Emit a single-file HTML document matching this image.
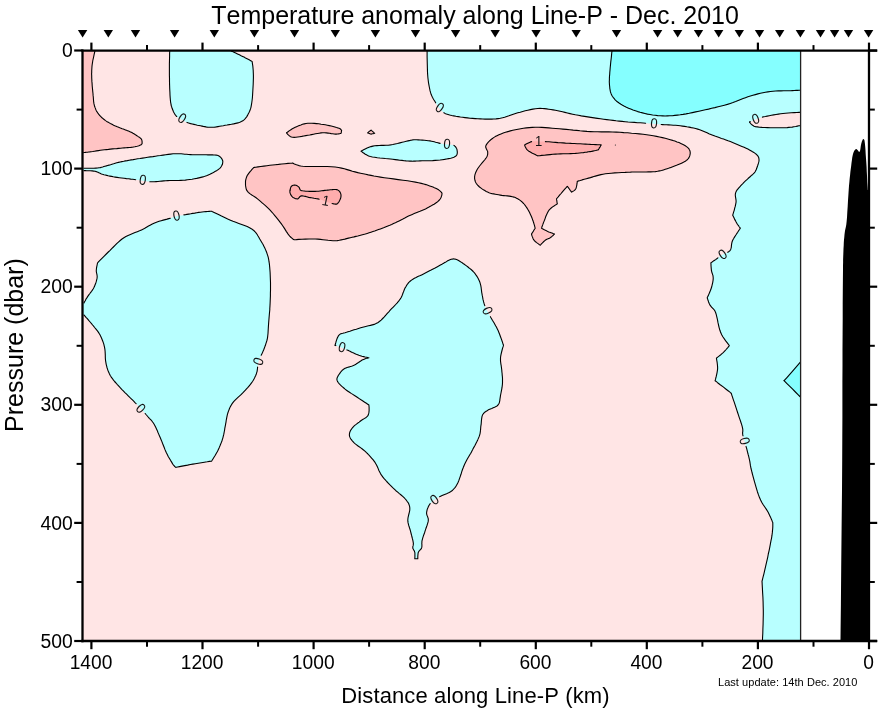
<!DOCTYPE html>
<html lang="en"><head><meta charset="utf-8"><title>Temperature anomaly along Line-P - Dec. 2010</title>
<style>
html,body{margin:0;padding:0;background:#fff;}
body{width:878px;height:708px;overflow:hidden;font-family:"Liberation Sans",Arial,Helvetica,sans-serif;}
svg{display:block;will-change:transform;font-kerning:none;font-family:"Liberation Sans",Arial,Helvetica,sans-serif;}
</style></head><body>
<svg width="878" height="708" viewBox="0 0 878 708">
<rect width="878" height="708" fill="#fff"/>
<defs><clipPath id="pa"><rect x="83" y="51" width="718" height="589.5"/></clipPath></defs>
<g clip-path="url(#pa)">
<rect x="83" y="51" width="718" height="589.5" fill="#FFE5E5"/>
<path d="M24 -9 L27 -9 L35.1 -9 L46.4 -9 L59.5 -9 L72.5 -9 L83.8 -9 L91.9 -9 L94.9 -9 L94.9 -6.4 L94.9 0.4 L94.9 10 L94.9 21 L94.9 32 L94.9 41.6 L94.9 48.4 L94.9 51 L94.8 51.4 L94.6 52.5 L94.2 54.1 L93.8 56.1 L93.3 58.3 L92.8 60.5 L92.5 62.7 L92.2 64.5 L92 66.1 L91.9 67.7 L91.8 69.3 L91.7 70.8 L91.7 72.4 L91.6 74 L91.7 75.7 L91.7 77.5 L91.8 79.4 L91.9 81.4 L92.1 83.6 L92.2 85.7 L92.4 87.8 L92.6 89.9 L92.8 91.9 L93 93.7 L93.1 95.4 L93.3 97 L93.4 98.5 L93.5 99.9 L93.6 101.3 L93.8 102.6 L94 103.9 L94.3 105.1 L94.6 106.3 L95 107.4 L95.4 108.4 L95.8 109.5 L96.2 110.4 L96.7 111.4 L97.3 112.3 L97.9 113.2 L98.6 114.1 L99.3 115 L100.1 115.8 L100.9 116.7 L101.7 117.5 L102.6 118.2 L103.5 119 L104.4 119.7 L105.3 120.4 L106.3 121.1 L107.2 121.7 L108.3 122.3 L109.3 122.9 L110.3 123.5 L111.4 124 L112.5 124.6 L113.6 125.2 L114.8 125.7 L116.1 126.2 L117.3 126.8 L118.6 127.3 L119.8 127.8 L121 128.2 L122.2 128.7 L123.3 129.1 L124.4 129.5 L125.5 129.9 L126.5 130.3 L127.5 130.7 L128.5 131.1 L129.5 131.5 L130.4 131.9 L131.3 132.3 L132.2 132.8 L133 133.3 L133.9 133.8 L134.7 134.3 L135.5 134.8 L136.2 135.2 L136.9 135.7 L137.6 136.1 L138.3 136.6 L138.9 137 L139.5 137.4 L140.1 137.9 L140.6 138.3 L141 138.7 L141.4 139.2 L141.7 139.7 L141.9 140.4 L142 141.1 L142.1 141.7 L142.1 142.3 L142.1 142.8 L142.1 143.2 L142.1 143.3 L142.1 143.4 L142 143.5 L142 143.7 L141.8 144 L141.7 144.2 L141.5 144.5 L141.2 144.7 L140.9 144.9 L140.3 145.1 L139.6 145.4 L138.9 145.7 L138 146 L137 146.3 L136 146.5 L134.8 146.8 L133.6 147 L132.3 147.2 L130.8 147.4 L129.3 147.5 L127.7 147.6 L126 147.8 L124.2 147.9 L122.4 148 L120.6 148.2 L118.7 148.4 L116.7 148.6 L114.7 148.7 L112.6 148.9 L110.5 149.1 L108.4 149.4 L106.4 149.6 L104.4 149.8 L102.4 150 L100.4 150.3 L98.4 150.6 L96.4 150.9 L94.5 151.2 L92.7 151.5 L91.1 151.7 L89.7 151.9 L88.6 152 L87.5 152.2 L86.4 152.3 L85.5 152.4 L84.7 152.5 L84.1 152.5 L83.7 152.6 L83.6 152.6 L81 152.7 L74.3 153 L64.7 153.4 L53.8 153.8 L42.9 154.2 L33.3 154.6 L26.6 154.9 L24 155 L24 148 L24 129.4 L24 103.1 L24 73 L24 42.9 L24 16.6 L24 -2Z" fill="#FFC4C4"/>
<path d="M169.7 -9 L169.7 -6.4 L169.7 0.4 L169.7 10 L169.7 21 L169.7 32 L169.7 41.6 L169.7 48.4 L169.7 51 L169.7 51.7 L169.6 53.6 L169.6 56.5 L169.5 60 L169.4 63.9 L169.4 68 L169.4 71.8 L169.4 75.2 L169.5 78.4 L169.5 81.8 L169.6 85.2 L169.7 88.6 L169.9 92 L170 95.1 L170.2 97.9 L170.4 100.3 L170.6 102.1 L170.9 103.6 L171.1 105 L171.4 106.2 L171.8 107.3 L172.1 108.3 L172.5 109.3 L172.9 110.3 L173.3 111.3 L173.7 112.2 L174.2 113 L174.6 113.8 L175.1 114.6 L175.6 115.2 L176.1 115.9 L176.7 116.5 L177.3 117.1 L177.9 117.5 L178.6 118 L179.3 118.4 L180 118.7 L180.8 119.1 L181.5 119.4 L182.2 119.8 L182.9 120.2 L183.5 120.6 L184.1 120.9 L184.7 121.3 L185.3 121.7 L186.1 122.1 L187 122.4 L188 122.8 L189.3 123.2 L190.7 123.6 L192.3 124 L193.9 124.4 L195.6 124.8 L197.3 125.2 L199 125.5 L200.5 125.8 L201.9 126.1 L203.3 126.4 L204.6 126.6 L205.9 126.9 L207.3 127.1 L208.6 127.2 L210 127.3 L211.5 127.3 L213.1 127.2 L214.7 127.1 L216.3 126.9 L218 126.6 L219.7 126.3 L221.4 126 L223.3 125.7 L225.1 125.3 L227.1 125 L229.2 124.6 L231.4 124.3 L233.6 123.9 L235.8 123.4 L237.9 122.9 L239.8 122.3 L241.4 121.6 L242.8 120.8 L244 119.8 L245 118.8 L246 117.7 L246.8 116.6 L247.5 115.4 L248.2 114.1 L248.9 112.8 L249.5 111.5 L250 110.2 L250.5 108.9 L250.9 107.6 L251.2 106.1 L251.5 104.4 L251.8 102.5 L252.1 100.3 L252.4 97.7 L252.6 94.6 L252.8 91.3 L253 87.8 L253.2 84.3 L253.3 81 L253.4 77.9 L253.4 75.2 L253.3 72.7 L253.2 70.3 L253 68 L252.8 65.9 L252.5 64.1 L252.3 62.6 L252.2 61.7 L252.1 61.4 L251.8 61.3 L251.1 60.9 L250 60.3 L248.7 59.5 L247.1 58.7 L245.5 57.9 L244 57.1 L242.6 56.4 L241.1 55.7 L239.4 54.8 L237.5 53.9 L235.7 53 L234 52.3 L232.6 51.6 L231.6 51.2 L231.3 51 L230.9 48.4 L229.8 41.6 L228.4 32 L226.7 21 L224.9 10 L223.5 0.4 L222.4 -6.4 L222 -9 L219.8 -9 L213.8 -9 L205.5 -9 L195.8 -9 L186.2 -9 L177.9 -9 L171.9 -9Z" fill="#B8FFFF"/>
<path d="M24 168.2 L26.6 168.2 L33.4 168.2 L43 168.2 L54 168.2 L65 168.2 L74.6 168.2 L81.4 168.2 L84 168.2 L84.4 168.2 L85.6 168.2 L87.3 168.3 L89.3 168.3 L91.6 168.3 L93.8 168.2 L95.9 168.1 L97.6 168 L99 167.8 L100.3 167.6 L101.5 167.3 L102.7 167 L103.8 166.6 L105 166.2 L106.3 165.9 L107.6 165.5 L109 165.1 L110.5 164.7 L112 164.2 L113.6 163.8 L115.2 163.3 L116.8 162.8 L118.5 162.4 L120.2 162 L121.9 161.6 L123.7 161.3 L125.5 160.9 L127.3 160.6 L129.2 160.2 L131.1 159.9 L133.2 159.6 L135.3 159.2 L137.6 158.8 L140 158.5 L142.5 158.1 L145.1 157.7 L147.7 157.3 L150.3 156.9 L152.9 156.6 L155.4 156.2 L157.9 155.8 L160.5 155.5 L163.1 155.1 L165.7 154.7 L168.2 154.4 L170.7 154.1 L173 153.8 L175.3 153.7 L177.4 153.7 L179.4 153.7 L181.2 153.8 L183.1 154 L184.8 154.2 L186.6 154.3 L188.5 154.5 L190.5 154.6 L192.6 154.7 L194.9 154.7 L197.2 154.7 L199.6 154.8 L201.9 154.8 L204.1 154.8 L206.2 154.8 L208 154.9 L209.6 154.9 L211.2 154.9 L212.5 154.9 L213.8 155 L215 155 L216.1 155.1 L217.1 155.3 L218 155.6 L218.9 156 L219.7 156.5 L220.4 157.1 L221 157.7 L221.5 158.4 L222 159.1 L222.3 159.8 L222.6 160.5 L222.8 161.2 L222.8 162 L222.7 162.7 L222.6 163.5 L222.4 164.3 L222.1 165.1 L221.7 165.8 L221.3 166.5 L220.8 167.2 L220.3 167.8 L219.7 168.4 L219.1 168.9 L218.3 169.5 L217.4 170.1 L216.5 170.7 L215.4 171.3 L214.2 172 L212.9 172.7 L211.4 173.4 L209.9 174.2 L208.3 174.9 L206.5 175.7 L204.8 176.3 L202.9 176.9 L200.9 177.4 L198.9 177.9 L196.7 178.4 L194.4 178.8 L192.1 179.2 L189.8 179.5 L187.5 179.8 L185.3 180.1 L183.1 180.3 L180.9 180.4 L178.6 180.5 L176.4 180.5 L174.2 180.5 L172 180.5 L169.9 180.5 L167.8 180.6 L165.8 180.7 L163.7 180.9 L161.7 181.1 L159.8 181.3 L157.9 181.5 L156.1 181.6 L154.3 181.8 L152.7 181.8 L151.2 181.8 L149.8 181.7 L148.6 181.6 L147.4 181.5 L146.2 181.3 L145.1 181.1 L143.9 181 L142.7 180.8 L141.5 180.6 L140.4 180.5 L139.3 180.3 L138.2 180.1 L137 179.9 L135.7 179.7 L134.3 179.5 L132.7 179.3 L130.8 179.1 L128.7 178.8 L126.4 178.6 L124.1 178.3 L121.7 178 L119.3 177.7 L117.1 177.4 L115.1 177.1 L113.3 176.8 L111.5 176.4 L109.8 176.1 L108.2 175.8 L106.7 175.4 L105.3 175 L103.9 174.7 L102.6 174.3 L101.4 173.9 L100.5 173.5 L99.6 173.1 L98.8 172.7 L98 172.3 L97.1 171.9 L96.2 171.6 L95.1 171.3 L93.7 171.1 L92.1 170.9 L90.2 170.8 L88.4 170.7 L86.7 170.7 L85.3 170.6 L84.3 170.6 L84 170.6 L81.4 170.6 L74.6 170.6 L65 170.6 L54 170.6 L43 170.6 L33.4 170.6 L26.6 170.6 L24 170.6 L24 170.5 L24 170.2 L24 169.8 L24 169.4 L24 169 L24 168.6 L24 168.3Z" fill="#B8FFFF"/>
<path d="M24 302.9 L26.6 302.9 L33.4 302.9 L43 302.9 L54 302.9 L65 302.9 L74.6 302.9 L81.4 302.9 L84 302.9 L84.1 302.7 L84.3 302.3 L84.7 301.6 L85.2 300.7 L85.7 299.7 L86.3 298.6 L87 297.6 L87.6 296.6 L88.3 295.6 L89 294.6 L89.9 293.5 L90.7 292.4 L91.6 291.3 L92.4 290.1 L93.1 289 L93.8 287.8 L94.4 286.6 L94.9 285.3 L95.4 284 L95.9 282.7 L96.3 281.4 L96.6 280.2 L96.9 278.9 L97.1 277.8 L97.2 276.7 L97.1 275.7 L97 274.8 L96.8 273.9 L96.6 273 L96.4 272.1 L96.3 271.2 L96.3 270.3 L96.4 269.3 L96.5 268.1 L96.7 266.8 L97 265.6 L97.2 264.5 L97.4 263.6 L97.5 263 L97.6 262.8 L98 262.4 L98.9 261.4 L100.4 259.9 L102.2 258.1 L104.2 256.1 L106.3 254 L108.3 252 L110.1 250.3 L111.7 248.7 L113.4 247 L115 245.4 L116.7 243.7 L118.4 242.1 L120.2 240.5 L122 239 L123.9 237.7 L125.9 236.5 L128.1 235.4 L130.4 234.4 L132.7 233.5 L135 232.6 L137.3 231.7 L139.5 230.8 L141.5 229.9 L143.4 229 L145.2 228 L146.9 227 L148.5 226.1 L150.1 225.2 L151.8 224.3 L153.4 223.5 L155.2 222.7 L157.1 222 L159.1 221.3 L161.2 220.7 L163.2 220.1 L165.2 219.6 L167.1 219.1 L168.8 218.6 L170.3 218.2 L171.4 217.9 L172.2 217.6 L173 217.3 L173.6 217.1 L174.3 216.9 L174.9 216.7 L175.6 216.5 L176.5 216.3 L177.4 216.1 L178.4 215.9 L179.3 215.7 L180.3 215.5 L181.4 215.4 L182.6 215.2 L183.9 214.9 L185.3 214.7 L186.9 214.4 L188.7 214.1 L190.7 213.8 L192.7 213.4 L194.7 213.1 L196.8 212.7 L198.7 212.4 L200.4 212.2 L202.1 212 L204 211.8 L205.9 211.6 L207.6 211.5 L209.2 211.4 L210.5 211.3 L211.3 211.2 L211.6 211.2 L212.1 211.5 L213.6 212.2 L215.8 213.3 L218.5 214.6 L221.5 216.1 L224.6 217.5 L227.7 219 L230.4 220.2 L233 221.3 L235.8 222.3 L238.8 223.4 L241.7 224.4 L244.5 225.5 L247.2 226.5 L249.6 227.7 L251.7 228.9 L253.4 230.2 L254.8 231.5 L256 232.9 L257 234.3 L257.9 235.8 L258.8 237.2 L259.6 238.7 L260.5 240.2 L261.4 241.7 L262.3 243.3 L263.2 244.8 L264 246.4 L264.8 248 L265.5 249.6 L266.2 251.2 L266.8 252.8 L267.3 254.3 L267.8 255.8 L268.2 257.2 L268.5 258.6 L268.8 260.1 L269 261.7 L269.3 263.4 L269.5 265.3 L269.7 267.4 L269.9 269.8 L270.1 272.2 L270.2 274.8 L270.3 277.5 L270.4 280.1 L270.5 282.7 L270.5 285.3 L270.5 287.9 L270.5 290.6 L270.4 293.3 L270.4 296 L270.3 298.6 L270.2 301.1 L270.1 303.4 L270 305.4 L269.9 307.1 L269.8 308.5 L269.8 309.7 L269.7 310.8 L269.6 311.8 L269.5 312.8 L269.4 313.8 L269.3 315 L269.2 316.2 L269.1 317.4 L269 318.6 L268.9 319.7 L268.8 321 L268.7 322.2 L268.6 323.6 L268.5 325 L268.4 326.6 L268.3 328.2 L268.2 329.9 L268.1 331.7 L268 333.5 L267.8 335.3 L267.6 337.1 L267.3 338.8 L266.9 340.5 L266.4 342.1 L265.9 343.7 L265.4 345.3 L264.8 346.9 L264.2 348.5 L263.6 350 L263 351.4 L262.4 352.8 L261.8 354.1 L261.2 355.3 L260.6 356.5 L260 357.7 L259.4 358.9 L258.9 360.1 L258.5 361.4 L258.2 362.8 L257.9 364.2 L257.8 365.6 L257.6 367.1 L257.5 368.5 L257.3 369.9 L257.1 371.3 L256.7 372.7 L256.3 374 L255.8 375.3 L255.2 376.5 L254.6 377.8 L254 379 L253.3 380.2 L252.5 381.5 L251.7 382.7 L250.8 383.9 L249.8 385.2 L248.8 386.4 L247.7 387.7 L246.5 388.9 L245.4 390.2 L244.2 391.4 L243 392.7 L241.8 393.9 L240.5 395.2 L239.1 396.4 L237.7 397.7 L236.4 398.9 L235.1 400.2 L233.9 401.4 L232.9 402.7 L232 403.9 L231.2 405.2 L230.5 406.4 L229.9 407.6 L229.4 408.8 L228.9 410.1 L228.4 411.4 L227.9 412.8 L227.5 414.2 L227.1 415.8 L226.8 417.3 L226.5 418.9 L226.2 420.5 L226 422.1 L225.7 423.7 L225.4 425.3 L225.1 426.9 L224.8 428.4 L224.6 430 L224.3 431.5 L224 433.1 L223.7 434.7 L223.3 436.2 L222.9 437.8 L222.4 439.4 L221.9 441 L221.3 442.6 L220.6 444.2 L220 445.8 L219.3 447.4 L218.6 448.9 L217.9 450.4 L217.1 452 L216.1 453.7 L215.1 455.5 L214 457.2 L213.1 458.7 L212.3 460 L211.8 460.8 L211.6 461.1 L211 461.2 L209.5 461.4 L207.2 461.8 L204.4 462.2 L201.4 462.7 L198.3 463.2 L195.3 463.7 L192.8 464.1 L190.4 464.5 L187.6 465.1 L184.8 465.6 L182.1 466.1 L179.6 466.6 L177.6 467 L176.3 467.3 L175.8 467.4 L175.7 467.3 L175.5 467.1 L175.2 466.9 L174.8 466.5 L174.3 466 L173.8 465.4 L173.3 464.8 L172.8 464.1 L172.2 463.1 L171.5 461.9 L170.7 460.6 L169.9 459.2 L169 457.7 L168.1 456.2 L167.3 454.5 L166.5 452.9 L165.7 451.2 L164.9 449.4 L164.2 447.5 L163.4 445.5 L162.6 443.5 L161.9 441.6 L161.1 439.7 L160.3 437.8 L159.5 436 L158.7 434.1 L157.9 432.3 L157.2 430.4 L156.4 428.7 L155.6 427 L154.8 425.4 L154 424 L153.2 422.8 L152.4 421.7 L151.7 420.7 L150.9 419.9 L150.1 419.1 L149.3 418.3 L148.5 417.4 L147.7 416.5 L146.9 415.5 L146 414.5 L145.2 413.5 L144.3 412.6 L143.4 411.5 L142.5 410.5 L141.6 409.5 L140.7 408.5 L139.8 407.5 L138.9 406.5 L138 405.6 L137 404.6 L136.1 403.6 L135 402.6 L133.9 401.4 L132.7 400.2 L131.3 398.8 L129.8 397.4 L128.2 395.8 L126.6 394.2 L124.9 392.6 L123.3 390.9 L121.7 389.3 L120.2 387.7 L118.8 386.1 L117.4 384.6 L116 383 L114.6 381.5 L113.3 379.9 L112.2 378.3 L111.1 376.8 L110.1 375.2 L109.3 373.6 L108.6 372.1 L108 370.6 L107.5 369.1 L107 367.5 L106.6 365.9 L106.2 364.3 L105.9 362.6 L105.6 360.8 L105.4 359 L105.3 357 L105.3 355.1 L105.2 353.1 L105.1 351.2 L104.9 349.4 L104.6 347.6 L104.2 345.9 L103.8 344.2 L103.3 342.6 L102.7 341 L102.1 339.5 L101.5 338 L100.8 336.5 L100.1 335.1 L99.3 333.7 L98.5 332.4 L97.6 331.1 L96.6 329.9 L95.6 328.7 L94.6 327.5 L93.6 326.2 L92.6 325 L91.5 323.6 L90.1 322 L88.7 320.4 L87.3 318.7 L86 317.3 L85 316.1 L84.3 315.3 L84 315 L81.4 315 L74.6 315 L65 315 L54 315 L43 315 L33.4 315 L26.6 315 L24 315 L24 314.5 L24 313.1 L24 311.2 L24 308.9 L24 306.7 L24 304.8 L24 303.4Z" fill="#B8FFFF"/>
<path d="M286.5 132.8 L286.7 132.6 L287.4 132.2 L288.3 131.5 L289.5 130.6 L290.9 129.7 L292.3 128.8 L293.8 128 L295.2 127.3 L296.6 126.7 L298 126.1 L299.4 125.4 L300.9 124.9 L302.5 124.3 L304.2 123.9 L306 123.5 L307.8 123.3 L309.8 123.2 L311.9 123.2 L314.2 123.4 L316.5 123.6 L318.8 123.8 L321.1 124.2 L323.3 124.5 L325.3 124.8 L327.3 125.2 L329.3 125.6 L331.2 126 L333.1 126.5 L334.9 127 L336.5 127.5 L337.9 127.9 L339.1 128.3 L339.6 128.5 L340.1 128.8 L340.6 129.2 L340.9 129.5 L341.2 129.8 L341.4 130.1 L341.6 130.2 L341.6 130.3 L341.6 130.4 L341.5 130.8 L341.4 131.2 L341.4 131.8 L341.3 132.4 L341.2 132.8 L341.1 133.2 L341.1 133.3 L341 133.3 L340.6 133.4 L340 133.6 L339.3 133.7 L338.4 133.9 L337.4 134 L336.4 134.1 L335.3 134.1 L334.1 134 L332.7 133.8 L331.2 133.6 L329.6 133.3 L328 133.1 L326.3 132.9 L324.5 132.8 L322.8 132.8 L321 132.9 L319.2 133.2 L317.4 133.5 L315.5 133.8 L313.5 134.2 L311.6 134.6 L309.7 135 L307.8 135.3 L305.9 135.6 L303.8 136 L301.8 136.4 L299.7 136.7 L297.7 137 L295.9 137.3 L294.2 137.4 L292.7 137.3 L291.4 137 L290.2 136.4 L289.2 135.7 L288.3 134.9 L287.5 134.1 L287 133.4 L286.6 133Z" fill="#FFC4C4"/>
<path d="M367.6 132.8 L367.7 132.7 L368.1 132.4 L368.7 131.9 L369.3 131.4 L369.9 131 L370.5 130.5 L370.9 130.2 L371 130.1 L371.2 130.2 L371.6 130.6 L372.2 131.1 L372.9 131.7 L373.5 132.3 L374.1 132.8 L374.5 133.2 L374.7 133.3 L374.5 133.3 L374.1 133.4 L373.5 133.6 L372.9 133.7 L372.2 133.8 L371.6 134 L371.2 134.1 L371 134.1 L370.9 134 L370.5 133.9 L369.9 133.7 L369.3 133.4 L368.7 133.2 L368.1 133 L367.7 132.9Z" fill="#FFC4C4"/>
<path d="M361.2 151.1 L361.5 150.9 L362.3 150.5 L363.6 149.8 L365.2 149 L367.1 148.1 L369 147.3 L371 146.6 L372.9 146.1 L374.8 145.8 L376.9 145.6 L379.1 145.5 L381.3 145.4 L383.6 145.4 L386 145.3 L388.3 145.2 L390.5 144.9 L392.8 144.5 L395.1 144 L397.5 143.5 L399.9 142.9 L402.2 142.3 L404.4 141.8 L406.3 141.3 L408 140.9 L409.2 140.6 L410.1 140.4 L410.8 140.2 L411.5 140.1 L412.1 140 L412.9 139.9 L413.8 139.8 L415 139.8 L416.5 139.8 L418.3 139.9 L420.3 140 L422.3 140.1 L424.4 140.3 L426.4 140.5 L428.3 140.7 L430 140.9 L431.5 141.2 L432.9 141.5 L434.3 141.8 L435.6 142.2 L436.8 142.5 L437.9 142.8 L439 143.1 L440.1 143.4 L441.1 143.6 L442 143.8 L442.9 143.9 L443.7 144.1 L444.5 144.2 L445.3 144.3 L446.1 144.4 L446.9 144.5 L447.8 144.6 L448.7 144.6 L449.7 144.7 L450.6 144.7 L451.5 144.8 L452.4 144.9 L453.2 145.1 L453.9 145.4 L454.5 145.8 L455.1 146.3 L455.6 146.9 L456.1 147.6 L456.4 148.3 L456.8 149 L457 149.7 L457.1 150.4 L457.2 151.1 L457.3 151.9 L457.3 152.8 L457.2 153.6 L457 154.4 L456.6 155.2 L456 156 L455.1 156.6 L453.9 157.2 L452.4 157.7 L450.7 158.2 L448.7 158.6 L446.7 159 L444.5 159.4 L442.3 159.7 L440.1 160 L437.8 160.2 L435.2 160.4 L432.6 160.6 L429.9 160.7 L427.2 160.7 L424.6 160.8 L422.2 160.8 L420 160.9 L418.1 161 L416.6 161 L415.1 161.1 L413.8 161.1 L412.5 161.2 L411.2 161.1 L409.7 161.1 L408 161 L406.1 160.9 L404.1 160.7 L402 160.4 L399.8 160.2 L397.5 159.9 L395.2 159.6 L392.8 159.3 L390.5 159 L388 158.7 L385.4 158.5 L382.7 158.2 L379.9 158 L377.3 157.7 L374.7 157.3 L372.4 157 L370.4 156.5 L368.6 155.9 L366.9 155.1 L365.3 154.2 L364 153.3 L362.8 152.5 L362 151.8 L361.4 151.3Z" fill="#B8FFFF"/>
<path d="M245.5 182.6 L245.5 181.6 L245.6 180.6 L245.8 179.7 L246 178.8 L246.3 177.9 L246.6 177 L247 176 L247.5 175.1 L248.2 174.1 L249.1 172.9 L250.1 171.6 L251.2 170.4 L252.2 169.2 L253 168.3 L253.6 167.7 L253.8 167.5 L254.3 167.4 L255.8 167.2 L258 166.9 L260.8 166.5 L263.8 166.1 L266.9 165.7 L269.9 165.3 L272.6 165 L275.3 164.7 L278.5 164.4 L281.8 164 L285 163.7 L288 163.4 L290.4 163.2 L292 163.1 L292.6 163 L292.8 163.1 L293.4 163.4 L294.4 163.9 L295.7 164.5 L297.2 165 L298.9 165.6 L300.7 166 L302.7 166.3 L305.8 166.5 L309.5 166.5 L313.7 166.5 L318.2 166.5 L322.8 166.5 L327.2 166.5 L331.5 166.7 L335.2 167 L338.5 167.5 L341.5 168.1 L344.4 168.8 L347.1 169.6 L349.8 170.4 L352.4 171.2 L355 171.9 L357.8 172.6 L360.5 173.2 L363.2 173.8 L365.7 174.3 L368.3 174.9 L371 175.4 L373.9 176 L377 176.5 L380.4 177.1 L384.3 177.7 L388.7 178.3 L393.4 178.9 L398.2 179.6 L403 180.2 L407.6 180.8 L411.8 181.5 L415.4 182.1 L418.5 182.7 L421.3 183.4 L423.7 184 L425.9 184.6 L427.9 185.3 L429.7 185.9 L431.4 186.5 L433 187.1 L434.4 187.7 L435.7 188.2 L436.8 188.8 L437.7 189.3 L438.6 189.8 L439.3 190.4 L439.9 190.9 L440.5 191.4 L441 191.9 L441.4 192.3 L441.7 192.7 L441.9 193.1 L442 193.5 L442 194 L441.9 194.5 L441.8 195.1 L441.6 195.8 L441.4 196.5 L441.1 197.2 L440.8 198 L440.3 198.8 L439.7 199.7 L438.9 200.5 L438 201.4 L436.9 202.3 L435.5 203.2 L434.1 204.2 L432.5 205.1 L430.8 206.1 L429 207.1 L427.2 208 L425.5 208.9 L423.7 209.7 L421.9 210.5 L420 211.3 L418.1 212 L416.2 212.8 L414.2 213.6 L412.3 214.4 L410.4 215.2 L408.5 216.1 L406.6 217 L404.8 218 L402.9 219 L401 219.9 L399.1 220.9 L397.3 221.8 L395.4 222.7 L393.5 223.5 L391.7 224.4 L389.8 225.2 L387.9 225.9 L386 226.7 L384.2 227.5 L382.3 228.2 L380.4 228.9 L378.5 229.6 L376.6 230.3 L374.7 231 L372.9 231.6 L371 232.2 L369.1 232.8 L367.2 233.4 L365.3 234 L363.4 234.5 L361.5 235 L359.7 235.5 L357.8 236 L355.9 236.4 L354.1 236.9 L352.2 237.3 L350.3 237.7 L348.5 238.1 L346.6 238.6 L344.9 239.1 L343.1 239.5 L341.2 239.9 L339.3 240.3 L337.3 240.6 L335.2 240.7 L332.9 240.7 L330.6 240.5 L328.1 240.3 L325.6 240 L323 239.7 L320.4 239.4 L317.8 239.1 L315.2 239 L312.3 239 L309 239 L305.4 239.1 L302 239.3 L298.8 239.4 L296.3 239.6 L294.5 239.7 L293.9 239.7 L293.8 239.6 L293.4 239.4 L292.9 239 L292.2 238.4 L291.4 237.8 L290.6 237 L289.7 236.1 L288.9 235.2 L288.1 234.1 L287.3 232.9 L286.4 231.6 L285.5 230.1 L284.6 228.6 L283.6 227.1 L282.5 225.5 L281.4 223.9 L280.2 222.3 L278.9 220.6 L277.5 218.8 L276.1 217.1 L274.6 215.3 L273.1 213.5 L271.6 211.8 L270.1 210.2 L268.6 208.6 L267 207.1 L265.4 205.6 L263.7 204.2 L262.1 202.8 L260.5 201.4 L259 200.1 L257.5 198.9 L256.1 197.8 L254.6 196.8 L253.2 195.9 L251.8 195 L250.5 194.1 L249.4 193.3 L248.3 192.4 L247.5 191.4 L246.8 190.4 L246.3 189.3 L246 188.1 L245.8 187 L245.6 185.9 L245.5 184.7 L245.5 183.6Z" fill="#FFC4C4"/>
<path d="M290.1 190.1 L290.2 189.6 L290.3 189.1 L290.4 188.6 L290.5 188.1 L290.7 187.6 L290.9 187.1 L291.1 186.7 L291.4 186.3 L291.7 186 L292.2 185.7 L292.6 185.5 L293.1 185.3 L293.6 185.2 L294.1 185.1 L294.6 185.1 L295.1 185.1 L295.6 185.2 L296.1 185.3 L296.6 185.5 L297.1 185.8 L297.6 186.1 L298 186.4 L298.5 186.8 L298.9 187.1 L299.2 187.5 L299.4 188 L299.6 188.5 L299.8 189 L300 189.5 L300.3 190 L300.7 190.3 L301.4 190.6 L302.6 190.8 L304.1 191 L305.8 191.2 L307.7 191.3 L309.6 191.4 L311.6 191.4 L313.5 191.4 L315.2 191.4 L316.9 191.3 L318.5 191.2 L320.1 191 L321.8 190.8 L323.3 190.6 L324.9 190.4 L326.3 190.2 L327.7 190.1 L329 190 L330.3 189.8 L331.5 189.7 L332.6 189.6 L333.7 189.5 L334.7 189.5 L335.7 189.5 L336.5 189.6 L337.2 189.8 L337.9 190.1 L338.4 190.4 L338.9 190.8 L339.3 191.2 L339.7 191.6 L340 192.1 L340.3 192.6 L340.5 193.1 L340.7 193.7 L340.9 194.3 L341 194.9 L341 195.6 L341 196.2 L340.9 196.9 L340.8 197.6 L340.6 198.3 L340.3 199.1 L339.9 199.9 L339.5 200.8 L339.1 201.6 L338.6 202.3 L338.1 202.9 L337.7 203.4 L337.3 203.7 L336.9 204 L336.5 204.1 L336.1 204.2 L335.7 204.1 L335.2 204.1 L334.6 204 L334 203.9 L333.1 203.7 L332.1 203.5 L330.9 203.2 L329.7 202.8 L328.4 202.4 L327.3 202.1 L326.2 201.7 L325.2 201.4 L324.4 201.1 L323.8 200.9 L323.3 200.6 L322.8 200.4 L322.3 200.1 L321.7 199.9 L321 199.6 L320.2 199.4 L319.2 199.2 L318 198.9 L316.8 198.7 L315.4 198.5 L314.1 198.3 L312.7 198 L311.4 197.8 L310.2 197.6 L309 197.4 L307.8 197.1 L306.6 196.7 L305.4 196.4 L304.3 196.2 L303.2 196 L302.3 195.9 L301.4 195.9 L300.7 196.1 L300.1 196.4 L299.7 196.9 L299.3 197.4 L298.9 197.9 L298.5 198.4 L298.1 198.7 L297.6 198.9 L297 198.9 L296.4 198.8 L295.7 198.7 L295 198.4 L294.3 198.1 L293.7 197.8 L293.1 197.5 L292.6 197.1 L292.2 196.7 L291.7 196.2 L291.4 195.7 L291 195.2 L290.7 194.6 L290.5 194.1 L290.3 193.6 L290.1 193.1 L290 192.7 L289.9 192.3 L289.9 191.9 L289.9 191.6 L289.9 191.2 L290 190.9 L290 190.5Z" fill="#FFADAD"/>
<path d="M486 145.4 L486.6 144.4 L487.3 143.3 L488.3 142.2 L489.4 141 L490.7 139.8 L492.1 138.7 L493.6 137.6 L495.2 136.6 L497 135.7 L498.9 134.8 L501 133.9 L503.2 133.1 L505.5 132.3 L507.9 131.6 L510.3 130.9 L512.8 130.3 L515.3 129.7 L518 129.2 L520.7 128.7 L523.4 128.3 L526.3 127.9 L529.2 127.6 L532.2 127.4 L535.3 127.3 L538.5 127.3 L541.8 127.4 L545.3 127.6 L548.8 127.9 L552.3 128.2 L555.9 128.5 L559.4 128.8 L562.9 129.1 L566.3 129.4 L569.8 129.7 L573.2 130.1 L576.6 130.4 L580 130.8 L583.5 131.1 L587 131.4 L590.5 131.6 L594.1 131.8 L597.7 131.8 L601.4 131.9 L605.1 131.9 L608.8 131.9 L612.5 132 L616.3 132.1 L620 132.3 L623.8 132.6 L627.7 132.8 L631.6 133.2 L635.5 133.5 L639.3 133.9 L643.1 134.3 L646.7 134.8 L650.1 135.3 L653.3 135.8 L656.5 136.4 L659.5 137 L662.4 137.6 L665.2 138.3 L667.8 139 L670.3 139.7 L672.7 140.4 L674.9 141.1 L677 141.9 L679 142.6 L680.8 143.4 L682.5 144.2 L684 145 L685.3 145.8 L686.5 146.6 L687.5 147.4 L688.3 148.1 L689 148.9 L689.4 149.7 L689.8 150.4 L690 151.2 L690.2 152.1 L690.2 152.9 L690.2 153.8 L690 154.7 L689.8 155.7 L689.4 156.6 L689 157.6 L688.3 158.6 L687.5 159.5 L686.5 160.4 L685.3 161.3 L683.8 162.1 L682.1 162.9 L680.3 163.7 L678.4 164.5 L676.5 165.3 L674.6 166 L672.7 166.7 L670.9 167.4 L669.1 168.1 L667.2 168.7 L665.3 169.3 L663.4 169.9 L661.5 170.5 L659.5 170.9 L657.5 171.3 L655.4 171.6 L653.1 171.8 L650.8 171.9 L648.4 171.9 L646.1 172 L643.9 172 L641.8 172 L640 172 L638.5 172 L637.3 172 L636.3 172 L635.3 172 L634.4 172 L633.4 172 L632.1 172 L630.5 172.1 L628 172.2 L625.1 172.4 L621.8 172.5 L618.3 172.7 L614.8 172.9 L611.3 173.2 L608.2 173.5 L605.4 173.8 L603 174.2 L600.9 174.6 L599 175.1 L597.1 175.6 L595.4 176.1 L593.8 176.6 L592.1 177.1 L590.4 177.6 L588.5 178.1 L586.4 178.7 L584.2 179.3 L582.1 179.9 L580.2 180.5 L578.7 180.9 L577.7 181.2 L577.3 181.3 L577.3 181.5 L577.2 182.2 L577.1 183.2 L576.9 184.4 L576.7 185.6 L576.4 186.9 L576.1 188 L575.8 188.8 L575.3 189.5 L574.7 190.1 L574.1 190.6 L573.3 191.1 L572.7 191.5 L572.1 191.8 L571.7 192 L571.6 192.1 L571.4 191.9 L570.9 191.2 L570.2 190.3 L569.5 189.2 L568.7 188.1 L568 187.2 L567.5 186.5 L567.3 186.3 L567.2 186.4 L566.8 186.8 L566.4 187.4 L565.7 188.1 L565 188.9 L564.3 189.7 L563.5 190.6 L562.8 191.4 L562 192.3 L561.1 193.5 L560 194.7 L559 195.9 L558 197.1 L557.2 198 L556.7 198.7 L556.5 198.9 L556.5 199.1 L556.6 199.7 L556.8 200.5 L556.9 201.4 L557 202.3 L557.2 203.1 L557.3 203.7 L557.3 203.9 L557 204.1 L556.3 204.5 L555.3 205.1 L554 206 L552.6 206.9 L551.2 208 L550 209.1 L549 210.2 L548.2 211.4 L547.5 212.8 L546.8 214.2 L546.1 215.8 L545.5 217.3 L545 218.8 L544.5 220.2 L544 221.4 L543.5 222.6 L543.1 223.7 L542.7 224.9 L542.3 225.9 L542 226.8 L541.7 227.6 L541.6 228 L541.5 228.2 L541.7 228.3 L542.2 228.6 L542.9 229 L543.8 229.5 L544.9 230 L545.9 230.6 L546.9 231.1 L547.8 231.5 L548.7 231.9 L549.8 232.3 L550.9 232.7 L552 233.1 L553 233.5 L553.8 233.7 L554.3 233.9 L554.5 234 L554.4 234.1 L554.1 234.4 L553.6 234.9 L553 235.5 L552.3 236.1 L551.6 236.7 L550.9 237.2 L550.3 237.7 L549.7 238.1 L549.1 238.4 L548.5 238.6 L547.8 238.9 L547.2 239.1 L546.6 239.4 L545.9 239.8 L545.3 240.2 L544.6 240.8 L543.8 241.5 L543 242.3 L542.2 243.2 L541.4 243.9 L540.8 244.6 L540.4 245 L540.3 245.2 L540.1 245.1 L539.5 244.7 L538.7 244.1 L537.7 243.4 L536.6 242.6 L535.6 241.8 L534.7 241 L534 240.2 L533.5 239.4 L533 238.4 L532.6 237.4 L532.2 236.4 L531.9 235.5 L531.7 234.7 L531.5 234.2 L531.5 234 L531.7 233.8 L532.1 233.1 L532.7 232.2 L533.4 231.1 L534 230 L534.6 229.1 L535 228.4 L535.2 228.2 L535.2 228 L535 227.5 L534.8 226.8 L534.6 225.9 L534.3 224.8 L533.9 223.6 L533.6 222.5 L533.2 221.4 L532.8 220.3 L532.4 219.1 L531.9 217.8 L531.4 216.5 L530.8 215.2 L530.2 213.9 L529.6 212.6 L529 211.4 L528.3 210.2 L527.6 209 L526.9 207.9 L526.1 206.7 L525.3 205.6 L524.5 204.5 L523.6 203.5 L522.7 202.6 L521.8 201.7 L520.8 200.9 L519.8 200.1 L518.8 199.4 L517.7 198.8 L516.5 198.2 L515.3 197.6 L513.9 197.1 L512.4 196.7 L510.8 196.4 L509.1 196.1 L507.3 195.9 L505.5 195.8 L503.7 195.6 L501.9 195.4 L500.2 195.1 L498.6 194.8 L496.9 194.5 L495.3 194.2 L493.7 193.9 L492.1 193.6 L490.5 193.2 L489 192.7 L487.6 192.1 L486.2 191.4 L484.8 190.6 L483.4 189.8 L482 188.9 L480.7 187.9 L479.5 187 L478.5 186 L477.6 185.1 L476.8 184.2 L476.2 183.3 L475.7 182.4 L475.3 181.5 L475 180.5 L474.8 179.6 L474.6 178.6 L474.6 177.6 L474.6 176.6 L474.8 175.5 L475 174.5 L475.4 173.4 L475.8 172.3 L476.3 171.2 L476.9 170 L477.6 168.8 L478.5 167.5 L479.6 166 L480.8 164.5 L482.1 162.9 L483.4 161.4 L484.6 160 L485.6 158.7 L486.4 157.5 L486.9 156.7 L487.2 155.9 L487.5 155.2 L487.6 154.6 L487.7 154 L487.7 153.4 L487.7 152.7 L487.7 152 L487.6 151.2 L487.2 150.5 L486.8 149.7 L486.4 148.9 L486 148.1 L485.7 147.2 L485.7 146.3Z" fill="#FFC4C4"/>
<path d="M538.6 141.4 L539.4 141.4 L540.2 141.4 L540.9 141.4 L541.6 141.4 L542.4 141.4 L543.2 141.5 L544.2 141.5 L545.4 141.6 L547 141.7 L548.9 141.8 L551 142 L553.2 142.2 L555.5 142.4 L557.9 142.6 L560.4 142.7 L562.9 142.9 L565.5 143.1 L568.4 143.2 L571.3 143.4 L574.3 143.5 L577.3 143.7 L580.2 143.8 L583 144 L585.5 144.1 L588 144.2 L590.6 144.4 L593.3 144.5 L595.7 144.6 L597.9 144.7 L599.6 144.8 L600.8 144.9 L601.2 144.9 L601.1 145.1 L600.7 145.7 L600.3 146.5 L599.8 147.4 L599.2 148.2 L598.8 149 L598.4 149.6 L598.3 149.8 L598.1 149.9 L597.5 150 L596.7 150.2 L595.6 150.5 L594.3 150.8 L592.9 151.1 L591.5 151.4 L590 151.6 L588.5 151.8 L586.9 152.1 L585.2 152.3 L583.4 152.6 L581.5 152.8 L579.6 153 L577.5 153.2 L575.4 153.4 L573.1 153.5 L570.7 153.6 L568.2 153.7 L565.6 153.8 L563 153.8 L560.4 153.9 L557.8 154 L555.4 154.1 L552.8 154.3 L550 154.6 L547.1 154.9 L544.2 155.2 L541.7 155.4 L539.7 155.7 L538.3 155.8 L537.8 155.9 L537.5 155.7 L536.5 155.3 L535.2 154.6 L533.6 153.8 L531.9 152.9 L530.3 152 L528.9 151.2 L527.8 150.4 L527 149.6 L526.4 148.8 L525.8 147.9 L525.4 147 L525 146.2 L524.8 145.5 L524.6 145.1 L524.6 144.9 L524.8 144.8 L525.4 144.5 L526.2 144 L527.2 143.5 L528.4 142.9 L529.5 142.4 L530.6 141.9 L531.6 141.6 L532.5 141.4 L533.4 141.3 L534.2 141.3 L535.1 141.3 L536 141.3 L536.9 141.3 L537.7 141.4Z" fill="#FFADAD"/>
<path d="M427.1 -9 L427.1 -6.4 L427.1 0.4 L427.1 10 L427.1 21 L427.1 32 L427.1 41.6 L427.1 48.4 L427.1 51 L427.1 51.8 L427.1 53.8 L427.1 56.8 L427.2 60.5 L427.3 64.5 L427.4 68.5 L427.5 72.2 L427.7 75.2 L427.9 77.8 L428.2 80.2 L428.5 82.6 L428.9 84.8 L429.3 87 L429.7 89 L430.1 90.9 L430.6 92.7 L431.1 94.3 L431.8 95.9 L432.4 97.2 L433.1 98.5 L433.8 99.7 L434.5 100.8 L435.1 101.8 L435.7 102.8 L436.2 103.7 L436.6 104.5 L437 105.2 L437.4 105.8 L437.8 106.4 L438.2 106.9 L438.7 107.5 L439.3 108.2 L440 108.9 L440.6 109.7 L441.3 110.5 L442.1 111.2 L442.9 112 L443.9 112.7 L445 113.4 L446.4 114 L448 114.5 L449.7 115 L451.7 115.5 L453.7 115.9 L455.9 116.3 L458.1 116.6 L460.4 117 L462.7 117.3 L465 117.6 L467.5 117.9 L470 118.2 L472.6 118.4 L475.2 118.6 L477.8 118.8 L480.3 118.9 L482.7 119 L485 119.1 L487.3 119.1 L489.5 119.1 L491.7 119.1 L493.8 119 L496 118.9 L498.1 118.6 L500.3 118.3 L502.5 117.8 L504.6 117.2 L506.8 116.5 L508.9 115.8 L511.1 115 L513.3 114.2 L515.5 113.5 L517.8 112.8 L520.2 112.2 L522.7 111.5 L525.2 110.8 L527.8 110.2 L530.4 109.6 L532.9 109.1 L535.4 108.7 L537.8 108.5 L540.1 108.4 L542.3 108.5 L544.5 108.6 L546.6 108.9 L548.7 109.2 L550.9 109.5 L553.1 109.9 L555.4 110.3 L557.8 110.7 L560.1 111.2 L562.5 111.8 L564.9 112.4 L567.4 113 L570 113.6 L572.6 114.2 L575.4 114.8 L578.3 115.3 L581.3 115.9 L584.5 116.4 L587.7 116.9 L590.9 117.4 L594.1 117.9 L597.4 118.4 L600.5 118.8 L603.6 119.2 L606.7 119.6 L609.9 120 L613 120.4 L616.1 120.8 L619.1 121.1 L622.1 121.4 L625.1 121.7 L628.1 122 L631.3 122.2 L634.4 122.4 L637.5 122.7 L640.4 122.8 L643.2 123 L645.6 123.2 L647.6 123.3 L648.7 123.4 L649.6 123.4 L650.3 123.5 L651 123.6 L651.6 123.6 L652.3 123.7 L653 123.7 L653.9 123.8 L654.8 123.9 L655.7 124 L656.6 124.1 L657.6 124.2 L658.7 124.3 L659.8 124.4 L661.2 124.5 L662.7 124.6 L664.5 124.7 L666.5 124.8 L668.6 124.9 L670.9 125 L673.3 125.2 L675.6 125.3 L678 125.5 L680.2 125.8 L682.4 126.1 L684.6 126.4 L686.9 126.8 L689.1 127.1 L691.3 127.6 L693.5 128 L695.6 128.5 L697.7 129.1 L699.7 129.7 L701.6 130.4 L703.4 131.2 L705.2 132 L707.1 132.8 L708.9 133.7 L710.8 134.5 L712.8 135.3 L714.9 136.1 L717 136.8 L719.2 137.6 L721.4 138.4 L723.6 139.1 L725.9 139.9 L728.1 140.8 L730.3 141.6 L732.6 142.5 L734.9 143.4 L737.3 144.4 L739.6 145.4 L741.9 146.4 L744.1 147.3 L746.1 148.2 L747.9 149.1 L749.5 149.9 L750.9 150.7 L752.2 151.5 L753.4 152.2 L754.5 152.9 L755.4 153.6 L756.3 154.3 L757 155 L757.6 155.7 L758.1 156.3 L758.4 156.9 L758.7 157.5 L758.8 158.1 L758.9 158.7 L759 159.3 L759 160 L759 160.7 L758.9 161.4 L758.7 162.2 L758.5 162.9 L758.3 163.7 L758 164.5 L757.8 165.2 L757.5 166 L757.3 166.8 L757 167.5 L756.7 168.3 L756.5 169.1 L756.1 169.9 L755.8 170.6 L755.4 171.3 L755 172 L754.5 172.6 L754 173.2 L753.5 173.7 L753 174.2 L752.4 174.7 L751.7 175.2 L751 175.8 L750.3 176.5 L749.5 177.3 L748.6 178 L747.7 178.9 L746.7 179.8 L745.7 180.7 L744.7 181.6 L743.7 182.6 L742.8 183.6 L741.8 184.6 L740.8 185.7 L739.8 186.8 L738.8 187.9 L737.8 189.1 L736.9 190.2 L736.2 191.4 L735.7 192.6 L735.4 193.8 L735.3 195 L735.4 196.2 L735.6 197.4 L735.8 198.6 L736 199.9 L736.1 201.2 L736 202.6 L735.7 204.2 L735.3 206.2 L734.7 208.2 L734.2 210.3 L733.6 212.2 L733.1 213.8 L732.8 214.8 L732.7 215.2 L732.8 215.4 L733.1 216.1 L733.6 217 L734.1 218.1 L734.7 219.4 L735.4 220.6 L736 221.8 L736.5 222.7 L737 223.6 L737.6 224.5 L738.3 225.4 L738.9 226.3 L739.4 227 L739.9 227.6 L740.2 228.1 L740.3 228.2 L740.2 228.4 L739.9 228.8 L739.5 229.5 L738.9 230.3 L738.3 231.2 L737.7 232.2 L737.1 233.1 L736.5 234 L736 234.8 L735.4 235.7 L734.8 236.6 L734.2 237.6 L733.7 238.5 L733.1 239.5 L732.6 240.5 L732.2 241.5 L731.9 242.6 L731.7 243.7 L731.5 244.9 L731.4 246.1 L731.3 247.3 L731 248.4 L730.7 249.4 L730.2 250.3 L729.5 251 L728.7 251.7 L727.7 252.2 L726.7 252.7 L725.7 253.1 L724.6 253.5 L723.6 254 L722.7 254.5 L721.8 255.1 L721 255.6 L720.2 256.2 L719.4 256.8 L718.7 257.4 L717.9 257.9 L717.1 258.5 L716.4 259 L715.6 259.6 L714.7 260.2 L713.8 260.8 L712.9 261.4 L712.1 262 L711.5 262.4 L711.1 262.7 L710.9 262.8 L710.9 263 L710.9 263.6 L711 264.5 L711 265.6 L711.1 266.8 L711.2 268.1 L711.3 269.3 L711.4 270.3 L711.6 271.2 L711.8 272.1 L712.1 273 L712.4 273.9 L712.7 274.8 L713 275.7 L713.1 276.7 L713.2 277.8 L713.2 278.9 L713.1 280.1 L712.9 281.4 L712.7 282.6 L712.4 283.9 L712.1 285.2 L711.8 286.5 L711.4 287.8 L710.9 289.2 L710.3 290.8 L709.6 292.5 L708.9 294.1 L708.3 295.6 L707.7 296.8 L707.3 297.6 L707.2 297.9 L707.3 298.1 L707.5 298.7 L707.8 299.6 L708.2 300.7 L708.6 302 L709.1 303.2 L709.7 304.4 L710.2 305.4 L710.8 306.2 L711.4 307 L712.1 307.6 L712.8 308.3 L713.6 309.1 L714.3 310 L715 311.1 L715.6 312.5 L716.2 314.4 L716.8 316.8 L717.4 319.4 L717.9 322.2 L718.5 325 L719.2 327.8 L719.9 330.3 L720.7 332.6 L721.7 334.7 L723 337 L724.5 339.1 L725.9 341.2 L727.3 342.9 L728.4 344.3 L729.1 345.3 L729.4 345.6 L729.2 345.8 L728.7 346.4 L728 347.3 L727.1 348.3 L726.1 349.5 L725.1 350.6 L724.1 351.7 L723.2 352.6 L722.3 353.4 L721.2 354.3 L720.1 355.3 L719 356.1 L718 356.9 L717.2 357.5 L716.6 357.9 L716.4 358.1 L716.5 358.4 L716.6 359.3 L716.8 360.5 L717.1 362.1 L717.3 363.8 L717.5 365.6 L717.6 367.4 L717.6 368.9 L717.4 370.5 L717.1 372.3 L716.7 374.3 L716.3 376.2 L715.8 378 L715.5 379.4 L715.2 380.3 L715.1 380.7 L715.8 381.2 L717.6 382.7 L720.2 384.7 L723.2 386.9 L726.1 389.2 L728.7 391.2 L730.5 392.7 L731.2 393.2 L731.4 393.7 L731.8 395.1 L732.5 397.1 L733.3 399.6 L734.3 402.4 L735.2 405.2 L736.1 407.9 L736.9 410.3 L737.6 412.5 L738.4 414.9 L739.2 417.3 L740 419.7 L740.8 422 L741.5 424.2 L742.1 426.1 L742.5 427.8 L742.7 428.9 L742.8 429.8 L742.8 430.6 L742.8 431.3 L742.7 431.9 L742.6 432.6 L742.6 433.3 L742.7 434.1 L742.8 434.9 L743 435.8 L743.2 436.6 L743.5 437.4 L743.7 438.3 L744 439.2 L744.2 440.1 L744.5 441.1 L744.8 442.1 L745.1 443.1 L745.4 444.2 L745.7 445.3 L746 446.4 L746.4 447.6 L746.7 448.7 L747 449.9 L747.3 451.1 L747.6 452.3 L747.9 453.5 L748.2 454.7 L748.6 456 L748.9 457.3 L749.2 458.6 L749.5 460 L749.8 461.4 L750 462.7 L750.2 464 L750.4 465.4 L750.7 466.8 L751 468.5 L751.5 470.3 L752 472.5 L752.7 475.1 L753.5 478.1 L754.4 481.4 L755.4 484.9 L756.4 488.4 L757.4 491.7 L758.5 494.9 L759.5 497.6 L760.6 500 L761.7 502.2 L762.9 504.2 L764.1 506 L765.3 507.8 L766.4 509.4 L767.4 511 L768.3 512.6 L769.1 514.2 L769.9 515.9 L770.7 517.6 L771.4 519.2 L772 520.6 L772.4 521.7 L772.7 522.4 L772.8 522.7 L772.8 523 L772.8 523.8 L772.8 525 L772.8 526.6 L772.7 528.5 L772.5 530.6 L772.3 532.9 L772 535.2 L771.6 537.8 L771 540.7 L770.4 543.9 L769.8 547.2 L769.1 550.6 L768.3 554 L767.7 557.3 L767 560.3 L766.3 563.4 L765.5 566.9 L764.7 570.4 L763.9 573.8 L763.1 576.9 L762.5 579.4 L762.1 581 L762 581.6 L762.1 582.4 L762.2 584.7 L762.4 588.1 L762.6 592.4 L762.9 597 L763.1 601.8 L763.2 606.4 L763.3 610.4 L763.3 614.5 L763.2 619.1 L763.1 624 L762.9 628.8 L762.8 633.2 L762.6 636.7 L762.5 639.1 L762.5 640 L762.5 642.6 L762.5 649.4 L762.5 659 L762.5 670 L762.5 681 L762.5 690.6 L762.5 697.4 L762.5 700 L766.7 700 L777.9 700 L793.7 700 L811.8 700 L829.8 700 L845.6 700 L856.8 700 L861 700 L861 669.5 L861 589.2 L861 475.7 L861 345.5 L861 215.3 L861 101.8 L861 21.5 L861 -9 L842.4 -9 L793.2 -9 L723.7 -9 L644 -9 L564.4 -9 L494.9 -9 L445.7 -9Z" fill="#B8FFFF"/>
<path d="M612 -9 L612 -6.4 L612 0.4 L612 10 L612 21 L612 32 L612 41.6 L612 48.4 L612 51 L611.9 51.6 L611.7 53.2 L611.5 55.6 L611.2 58.5 L610.8 61.6 L610.5 64.8 L610.2 67.7 L610 70.2 L609.8 72.3 L609.7 74.3 L609.5 76.3 L609.4 78.2 L609.4 80 L609.3 81.8 L609.4 83.5 L609.5 85.2 L609.7 86.8 L609.8 88.3 L610.1 89.8 L610.3 91.2 L610.7 92.6 L611.2 93.9 L611.8 95.2 L612.5 96.5 L613.4 97.7 L614.4 98.9 L615.4 100.1 L616.6 101.2 L618 102.2 L619.4 103.3 L620.9 104.3 L622.6 105.3 L624.4 106.3 L626.4 107.3 L628.5 108.2 L630.7 109.1 L633 110 L635.4 110.8 L637.7 111.6 L640.1 112.3 L642.5 112.9 L644.9 113.5 L647.5 114.1 L650 114.5 L652.6 115 L655.1 115.3 L657.7 115.6 L660.2 115.8 L662.7 115.9 L665.1 116 L667.5 115.9 L669.9 115.8 L672.3 115.7 L674.8 115.4 L677.5 115.1 L680.2 114.8 L683.1 114.4 L686.1 113.9 L689.2 113.3 L692.4 112.6 L695.7 111.9 L698.9 111.2 L702.1 110.5 L705.3 109.8 L708.5 109.1 L711.7 108.3 L714.9 107.6 L718.1 106.8 L721.3 106 L724.4 105.2 L727.4 104.4 L730.3 103.5 L733 102.6 L735.7 101.6 L738.2 100.6 L740.7 99.6 L743.1 98.6 L745.5 97.7 L747.9 96.8 L750.4 96 L752.9 95.3 L755.4 94.6 L757.9 93.9 L760.4 93.3 L762.9 92.8 L765.4 92.3 L767.9 91.9 L770.4 91.5 L773 91.2 L775.6 91 L778.4 90.9 L781 90.9 L783.7 90.8 L786.1 90.8 L788.4 90.8 L790.5 90.7 L792.4 90.6 L794.3 90.5 L796.1 90.4 L797.7 90.4 L799 90.3 L800.1 90.2 L800.8 90.2 L801 90.2 L803.6 90.2 L810.4 90.2 L820 90.1 L831 90.1 L842 90.1 L851.6 90 L858.4 90 L861 90 L861 85.7 L861 74.5 L861 58.7 L861 40.5 L861 22.3 L861 6.5 L861 -4.7 L861 -9 L850.3 -9 L822.1 -9 L782.2 -9 L736.5 -9 L690.8 -9 L650.9 -9 L622.7 -9Z" fill="#85FFFF"/>
<path d="M749.6 122.1 L749.8 122 L750.2 121.7 L750.9 121.4 L751.8 120.9 L752.8 120.4 L753.9 119.9 L755 119.4 L756 119 L757 118.7 L757.9 118.3 L758.9 118 L760 117.7 L761.1 117.4 L762.4 117.1 L763.8 116.8 L765.4 116.5 L767.2 116.1 L769.2 115.7 L771.4 115.3 L773.7 114.9 L776 114.5 L778.4 114.1 L780.7 113.8 L783 113.5 L785.5 113.2 L788.3 113 L791.3 112.8 L794.2 112.6 L796.9 112.5 L799 112.4 L800.5 112.3 L801 112.3 L803.6 112.3 L810.4 112.3 L820 112.2 L831 112.2 L842 112.1 L851.6 112 L858.4 112 L861 112 L861 112.6 L861 114.1 L861 116.2 L861 118.7 L861 121.1 L861 123.2 L861 124.7 L861 125.3 L858.4 125.3 L851.6 125.3 L842 125.3 L831 125.3 L820 125.3 L810.4 125.3 L803.6 125.3 L801 125.3 L800.7 125.4 L800 125.6 L798.8 125.8 L797.4 126.1 L795.7 126.5 L793.9 126.8 L792.2 127.1 L790.5 127.3 L788.9 127.4 L787.2 127.6 L785.4 127.7 L783.5 127.8 L781.6 127.8 L779.6 127.8 L777.6 127.8 L775.4 127.8 L773 127.8 L770.4 127.7 L767.6 127.6 L764.8 127.5 L762.1 127.4 L759.5 127.2 L757.3 126.9 L755.4 126.6 L754.1 126.2 L753 125.6 L752 124.8 L751.2 124.1 L750.5 123.3 L750 122.7 L749.7 122.3Z" fill="#FFE5E5"/>
<path d="M784.1 380.7 L784.8 379.9 L786.7 377.8 L789.3 374.8 L792.4 371.3 L795.4 367.8 L798 364.8 L799.9 362.7 L800.6 361.9 L803.2 361 L810 358.5 L819.7 355 L830.8 350.9 L841.9 346.9 L851.6 343.4 L858.4 340.9 L861 340 L861 343.4 L861 352.5 L861 365.3 L861 380 L861 394.7 L861 407.5 L861 416.6 L861 420 L858.4 419 L851.6 416.4 L841.9 412.8 L830.8 408.6 L819.7 404.4 L810 400.8 L803.2 398.2 L800.6 397.2 L799.9 396.5 L798 394.6 L795.4 392 L792.4 388.9 L789.3 385.9 L786.7 383.3 L784.8 381.4Z" fill="#85FFFF"/>
<path d="M335.1 345.3 L335.2 345 L335.4 344 L335.8 342.7 L336.2 341.1 L336.8 339.4 L337.4 337.8 L338.1 336.4 L338.8 335.3 L339.5 334.6 L340.2 334.1 L341 333.7 L341.9 333.5 L342.8 333.3 L343.8 333 L345 332.7 L346.4 332.3 L348 331.8 L349.9 331.2 L351.9 330.5 L354.1 329.8 L356.3 329.2 L358.5 328.5 L360.7 327.8 L362.7 327.2 L364.7 326.7 L366.6 326.2 L368.5 325.8 L370.4 325.4 L372.3 324.9 L374.2 324.4 L376 323.6 L377.7 322.7 L379.4 321.5 L381.1 320.1 L382.7 318.5 L384.3 316.9 L385.8 315.2 L387.3 313.4 L388.8 311.8 L390.2 310.2 L391.6 308.7 L393 307.3 L394.4 305.9 L395.7 304.5 L397 303.1 L398.2 301.7 L399.3 300.3 L400.3 298.9 L401.2 297.5 L401.9 296 L402.5 294.5 L403 293 L403.6 291.6 L404.1 290.2 L404.7 288.8 L405.3 287.6 L406 286.5 L406.6 285.4 L407.2 284.5 L407.9 283.6 L408.6 282.7 L409.4 281.9 L410.4 281 L411.5 280.1 L412.9 279.2 L414.4 278.3 L416.1 277.5 L417.8 276.6 L419.7 275.8 L421.6 274.9 L423.5 274 L425.3 273.1 L427.2 272.1 L429.1 271.1 L431.1 270.1 L433.1 269 L435.1 268 L437 266.9 L438.7 266 L440.4 265.1 L441.9 264.3 L443.3 263.4 L444.7 262.6 L446 261.9 L447.2 261.1 L448.3 260.5 L449.4 260 L450.4 259.6 L451.3 259.3 L452.2 259.1 L452.9 259 L453.6 258.9 L454.3 259 L455 259.1 L455.7 259.3 L456.6 259.6 L457.6 260 L458.6 260.5 L459.7 261.2 L460.8 261.9 L462 262.6 L463.1 263.5 L464.3 264.3 L465.4 265.1 L466.5 265.9 L467.7 266.8 L468.8 267.7 L470 268.6 L471.1 269.5 L472.2 270.5 L473.2 271.5 L474.2 272.6 L475.1 273.7 L475.9 274.9 L476.8 276.1 L477.5 277.3 L478.2 278.5 L478.9 279.9 L479.5 281.2 L480 282.6 L480.4 284.1 L480.8 285.7 L481.1 287.3 L481.3 289 L481.5 290.6 L481.7 292.3 L482 293.8 L482.2 295.2 L482.5 296.5 L482.7 297.7 L482.9 298.8 L483.1 299.9 L483.4 300.9 L483.6 301.9 L483.9 302.9 L484.2 303.9 L484.5 304.8 L484.8 305.7 L485.2 306.6 L485.5 307.4 L485.9 308.3 L486.3 309.1 L486.7 310 L487.2 310.9 L487.7 311.8 L488.2 312.8 L488.7 313.7 L489.2 314.7 L489.8 315.7 L490.4 316.7 L491 317.8 L491.7 319 L492.4 320.2 L493.2 321.5 L494 322.8 L494.8 324.2 L495.6 325.7 L496.4 327.1 L497.2 328.7 L498 330.3 L498.8 332.2 L499.7 334.5 L500.6 337 L501.5 339.4 L502.3 341.7 L502.9 343.6 L503.3 344.8 L503.5 345.3 L503.4 345.7 L503.1 346.7 L502.6 348.2 L502.1 350 L501.6 352 L501.1 354.1 L500.7 356.1 L500.5 357.8 L500.5 359.4 L500.5 360.9 L500.7 362.5 L500.9 364.1 L501.2 365.7 L501.4 367.3 L501.6 368.8 L501.8 370.4 L501.9 372 L502.1 373.5 L502.2 375.1 L502.4 376.7 L502.5 378.2 L502.5 379.8 L502.5 381.3 L502.5 382.9 L502.4 384.5 L502.2 386.1 L502 387.7 L501.7 389.3 L501.4 390.9 L501.1 392.5 L500.8 394 L500.5 395.4 L500.3 396.8 L500.1 398.1 L499.9 399.4 L499.8 400.7 L499.5 401.9 L499.2 403 L498.7 404 L498 405 L497.1 405.9 L495.9 406.6 L494.6 407.2 L493.2 407.8 L491.8 408.4 L490.4 408.9 L489.1 409.5 L488 410.1 L487.1 410.7 L486.2 411.2 L485.4 411.8 L484.7 412.3 L484.1 412.9 L483.5 413.5 L483 414.2 L482.5 415.1 L482.1 416.1 L481.9 417.2 L481.7 418.4 L481.5 419.7 L481.4 421 L481.3 422.4 L481.2 423.8 L481 425.1 L480.8 426.4 L480.7 427.7 L480.6 429.1 L480.5 430.4 L480.3 431.8 L480.1 433.3 L479.7 434.8 L479.2 436.4 L478.5 438.1 L477.7 439.9 L476.8 441.8 L475.8 443.7 L474.8 445.7 L473.7 447.6 L472.7 449.6 L471.7 451.4 L470.8 453.2 L469.8 454.8 L468.8 456.5 L467.9 458.1 L466.9 459.8 L466 461.5 L465.1 463.3 L464.2 465.2 L463.4 467.3 L462.5 469.5 L461.7 471.9 L461 474.3 L460.2 476.6 L459.4 478.9 L458.7 480.9 L457.9 482.7 L457.1 484.2 L456.4 485.5 L455.7 486.6 L455 487.6 L454.2 488.5 L453.4 489.4 L452.6 490.2 L451.6 491 L450.5 491.8 L449.3 492.5 L448 493.1 L446.6 493.7 L445.3 494.2 L444 494.7 L442.7 495.3 L441.6 495.8 L440.6 496.3 L439.6 496.8 L438.7 497.3 L437.8 497.8 L437 498.2 L436.2 498.7 L435.4 499.2 L434.6 499.8 L433.8 500.4 L433 501 L432.3 501.7 L431.6 502.3 L430.9 503 L430.2 503.7 L429.6 504.5 L429.1 505.3 L428.6 506.1 L428.2 507 L427.8 508 L427.4 508.9 L427.1 509.9 L426.9 510.9 L426.7 511.8 L426.6 512.8 L426.6 513.7 L426.8 514.6 L427.1 515.5 L427.5 516.4 L427.8 517.3 L428.1 518.2 L428.3 519.2 L428.3 520.3 L428.2 521.4 L427.9 522.6 L427.5 523.9 L427.1 525.2 L426.6 526.5 L426.2 527.8 L425.7 529.1 L425.3 530.4 L424.9 531.7 L424.5 533 L424 534.3 L423.5 535.6 L423.1 536.8 L422.7 538.1 L422.4 539.3 L422.1 540.4 L421.9 541.5 L421.9 542.5 L421.8 543.5 L421.9 544.5 L421.9 545.4 L421.9 546.3 L421.8 547.1 L421.6 547.9 L421.3 548.6 L420.9 549.2 L420.4 549.7 L419.9 550.2 L419.5 550.7 L419 551.2 L418.6 551.8 L418.3 552.4 L418.1 553.2 L418 554.1 L417.9 555.2 L417.8 556.2 L417.8 557.2 L417.8 558 L417.8 558.5 L417.8 558.7 L417.7 558.7 L417.3 558.7 L416.9 558.7 L416.3 558.7 L415.7 558.7 L415.3 558.7 L414.9 558.7 L414.8 558.7 L414.8 558.5 L414.8 558 L414.9 557.2 L414.9 556.2 L414.9 555.2 L414.9 554.1 L414.9 553.2 L414.8 552.4 L414.6 551.8 L414.4 551.2 L414.1 550.6 L413.8 550.1 L413.5 549.5 L413.2 549 L412.9 548.5 L412.8 547.9 L412.8 547.3 L412.8 546.8 L412.9 546.3 L413.1 545.7 L413.2 545.2 L413.3 544.5 L413.4 543.8 L413.3 542.9 L413.1 541.7 L412.8 540.2 L412.4 538.7 L412 537 L411.5 535.2 L411.1 533.5 L410.7 531.9 L410.3 530.4 L409.9 529 L409.5 527.8 L409.1 526.5 L408.7 525.4 L408.4 524.2 L408.1 522.9 L407.9 521.7 L407.8 520.3 L407.9 518.8 L408.1 517.3 L408.5 515.6 L408.9 514 L409.3 512.3 L409.7 510.7 L409.8 509.2 L409.8 507.8 L409.6 506.5 L409.3 505.4 L408.9 504.3 L408.5 503.3 L407.9 502.3 L407.1 501.3 L406.3 500.2 L405.3 499 L404.1 497.7 L402.7 496.4 L401.1 495 L399.4 493.6 L397.7 492.1 L395.9 490.7 L394.3 489.2 L392.7 487.7 L391.2 486.2 L389.7 484.7 L388.2 483.1 L386.7 481.5 L385.3 479.9 L383.9 478.4 L382.7 476.8 L381.5 475.2 L380.5 473.6 L379.7 472 L378.9 470.5 L378.3 468.9 L377.6 467.3 L376.9 465.7 L376.1 464.2 L375.2 462.7 L374.1 461.2 L373 459.7 L371.8 458.3 L370.5 456.8 L369.2 455.4 L367.9 454 L366.5 452.7 L365.2 451.4 L363.8 450.2 L362.3 449 L360.8 447.9 L359.2 446.8 L357.7 445.7 L356.3 444.6 L355 443.6 L353.9 442.6 L353 441.6 L352.1 440.6 L351.4 439.7 L350.7 438.8 L350.2 437.9 L349.8 436.9 L349.5 436 L349.4 435.1 L349.4 434.2 L349.6 433.2 L349.8 432.2 L350.2 431.3 L350.7 430.3 L351.3 429.4 L351.9 428.5 L352.6 427.6 L353.3 426.8 L354.2 425.9 L355.1 425.1 L356.1 424.4 L357.1 423.6 L358.2 422.8 L359.2 422.1 L360.2 421.3 L361.2 420.5 L362.3 419.8 L363.5 419.1 L364.6 418.4 L365.7 417.7 L366.7 416.9 L367.5 416.1 L368.2 415.1 L368.6 413.9 L368.9 412.4 L369.1 410.7 L369.1 409 L369.1 407.5 L369 406.2 L368.9 405.3 L368.9 405 L368.6 404.8 L367.7 404.2 L366.4 403.3 L364.7 402.2 L362.9 401 L361 399.8 L359.2 398.6 L357.6 397.5 L356.1 396.5 L354.5 395.5 L352.8 394.4 L351.1 393.4 L349.5 392.3 L347.9 391.2 L346.5 390.2 L345.1 389.1 L343.8 388 L342.5 386.9 L341.3 385.8 L340.1 384.7 L339.1 383.6 L338.2 382.5 L337.5 381.4 L337.1 380.4 L336.9 379.4 L337 378.4 L337.3 377.4 L337.8 376.4 L338.3 375.4 L339 374.5 L339.6 373.7 L340.1 372.9 L340.6 372.2 L341.1 371.5 L341.7 370.9 L342.2 370.3 L342.9 369.8 L343.5 369.3 L344.3 368.8 L345.1 368.3 L346 367.9 L347 367.5 L348.1 367.2 L349.3 366.9 L350.4 366.5 L351.6 366.2 L352.8 365.8 L353.9 365.3 L355 364.7 L356.2 364 L357.3 363.3 L358.5 362.5 L359.6 361.7 L360.7 361 L361.7 360.3 L362.7 359.8 L363.7 359.4 L364.7 359 L365.8 358.6 L366.7 358.3 L367.6 358.1 L368.3 357.9 L368.7 357.8 L368.9 357.8 L368.6 357.7 L367.8 357.6 L366.6 357.3 L365.1 357 L363.5 356.6 L361.9 356.2 L360.3 355.7 L358.9 355.3 L357.6 354.8 L356.3 354.3 L355 353.7 L353.7 353.1 L352.4 352.5 L351.2 351.9 L350 351.3 L348.9 350.8 L347.9 350.3 L346.9 349.9 L346 349.5 L345.2 349.2 L344.4 348.8 L343.6 348.5 L342.7 348.1 L341.9 347.8 L340.9 347.4 L339.9 347 L338.7 346.6 L337.6 346.2 L336.6 345.8 L335.8 345.6 L335.3 345.4Z" fill="#B8FFFF"/>
<path d="M94.9 51 L94.8 51.4 L94.6 52.5 L94.2 54.1 L93.8 56.1 L93.3 58.3 L92.8 60.5 L92.5 62.7 L92.2 64.5 L92 66.1 L91.9 67.7 L91.8 69.3 L91.7 70.8 L91.7 72.4 L91.6 74 L91.7 75.7 L91.7 77.5 L91.8 79.4 L91.9 81.4 L92.1 83.6 L92.2 85.7 L92.4 87.8 L92.6 89.9 L92.8 91.9 L93 93.7 L93.1 95.4 L93.3 97 L93.4 98.5 L93.5 99.9 L93.6 101.3 L93.8 102.6 L94 103.9 L94.3 105.1 L94.6 106.3 L95 107.4 L95.4 108.4 L95.8 109.5 L96.2 110.4 L96.7 111.4 L97.3 112.3 L97.9 113.2 L98.6 114.1 L99.3 115 L100.1 115.8 L100.9 116.7 L101.7 117.5 L102.6 118.2 L103.5 119 L104.4 119.7 L105.3 120.4 L106.3 121.1 L107.2 121.7 L108.3 122.3 L109.3 122.9 L110.3 123.5 L111.4 124 L112.5 124.6 L113.6 125.2 L114.8 125.7 L116.1 126.2 L117.3 126.8 L118.6 127.3 L119.8 127.8 L121 128.2 L122.2 128.7 L123.3 129.1 L124.4 129.5 L125.5 129.9 L126.5 130.3 L127.5 130.7 L128.5 131.1 L129.5 131.5 L130.4 131.9 L131.3 132.3 L132.2 132.8 L133 133.3 L133.9 133.8 L134.7 134.3 L135.5 134.8 L136.2 135.2 L136.9 135.7 L137.6 136.1 L138.3 136.6 L138.9 137 L139.5 137.4 L140.1 137.9 L140.6 138.3 L141 138.7 L141.4 139.2 L141.7 139.7 L141.9 140.4 L142 141.1 L142.1 141.7 L142.1 142.3 L142.1 142.8 L142.1 143.2 L142.1 143.3 L142.1 143.4 L142 143.5 L142 143.7 L141.8 144 L141.7 144.2 L141.5 144.5 L141.2 144.7 L140.9 144.9 L140.3 145.1 L139.6 145.4 L138.9 145.7 L138 146 L137 146.3 L136 146.5 L134.8 146.8 L133.6 147 L132.3 147.2 L130.8 147.4 L129.3 147.5 L127.7 147.6 L126 147.8 L124.2 147.9 L122.4 148 L120.6 148.2 L118.7 148.4 L116.7 148.6 L114.7 148.7 L112.6 148.9 L110.5 149.1 L108.4 149.4 L106.4 149.6 L104.4 149.8 L102.4 150 L100.4 150.3 L98.4 150.6 L96.4 150.9 L94.5 151.2 L92.7 151.5 L91.1 151.7 L89.7 151.9 L88.6 152 L87.5 152.2 L86.4 152.3 L85.5 152.4 L84.7 152.5 L84.1 152.5 L83.7 152.6 L83.6 152.6" fill="none" stroke="#000" stroke-width="1.1" stroke-linejoin="round" stroke-linecap="round"/>
<path d="M169.7 51 L169.7 51.7 L169.6 53.6 L169.6 56.5 L169.5 60 L169.4 63.9 L169.4 68 L169.4 71.8 L169.4 75.2 L169.5 78.4 L169.5 81.8 L169.6 85.2 L169.7 88.6 L169.9 92 L170 95.1 L170.2 97.9 L170.4 100.3 L170.6 102.1 L170.9 103.6 L171.1 105 L171.4 106.2 L171.8 107.3 L172.1 108.3 L172.5 109.3 L172.9 110.3 L173.3 111.3 L173.7 112.2 L174.2 113 L174.6 113.8 L175.1 114.6 L175.6 115.2 L176.1 115.9 L176.7 116.5" fill="none" stroke="#000" stroke-width="1.1" stroke-linejoin="round" stroke-linecap="round"/>
<path d="M187 122.4 L188 122.8 L189.3 123.2 L190.7 123.6 L192.3 124 L193.9 124.4 L195.6 124.8 L197.3 125.2 L199 125.5 L200.5 125.8 L201.9 126.1 L203.3 126.4 L204.6 126.6 L205.9 126.9 L207.3 127.1 L208.6 127.2 L210 127.3 L211.5 127.3 L213.1 127.2 L214.7 127.1 L216.3 126.9 L218 126.6 L219.7 126.3 L221.4 126 L223.3 125.7 L225.1 125.3 L227.1 125 L229.2 124.6 L231.4 124.3 L233.6 123.9 L235.8 123.4 L237.9 122.9 L239.8 122.3 L241.4 121.6 L242.8 120.8 L244 119.8 L245 118.8 L246 117.7 L246.8 116.6 L247.5 115.4 L248.2 114.1 L248.9 112.8 L249.5 111.5 L250 110.2 L250.5 108.9 L250.9 107.6 L251.2 106.1 L251.5 104.4 L251.8 102.5 L252.1 100.3 L252.4 97.7 L252.6 94.6 L252.8 91.3 L253 87.8 L253.2 84.3 L253.3 81 L253.4 77.9 L253.4 75.2 L253.3 72.7 L253.2 70.3 L253 68 L252.8 65.9 L252.5 64.1 L252.3 62.6 L252.2 61.7 L252.1 61.4 L251.8 61.3 L251.1 60.9 L250 60.3 L248.7 59.5 L247.1 58.7 L245.5 57.9 L244 57.1 L242.6 56.4 L241.1 55.7 L239.4 54.8 L237.5 53.9 L235.7 53 L234 52.3 L232.6 51.6 L231.6 51.2 L231.3 51" fill="none" stroke="#000" stroke-width="1.1" stroke-linejoin="round" stroke-linecap="round"/>
<path d="M84 168.2 L84.4 168.2 L85.6 168.2 L87.3 168.3 L89.3 168.3 L91.6 168.3 L93.8 168.2 L95.9 168.1 L97.6 168 L99 167.8 L100.3 167.6 L101.5 167.3 L102.7 167 L103.8 166.6 L105 166.2 L106.3 165.9 L107.6 165.5 L109 165.1 L110.5 164.7 L112 164.2 L113.6 163.8 L115.2 163.3 L116.8 162.8 L118.5 162.4 L120.2 162 L121.9 161.6 L123.7 161.3 L125.5 160.9 L127.3 160.6 L129.2 160.2 L131.1 159.9 L133.2 159.6 L135.3 159.2 L137.6 158.8 L140 158.5 L142.5 158.1 L145.1 157.7 L147.7 157.3 L150.3 156.9 L152.9 156.6 L155.4 156.2 L157.9 155.8 L160.5 155.5 L163.1 155.1 L165.7 154.7 L168.2 154.4 L170.7 154.1 L173 153.8 L175.3 153.7 L177.4 153.7 L179.4 153.7 L181.2 153.8 L183.1 154 L184.8 154.2 L186.6 154.3 L188.5 154.5 L190.5 154.6 L192.6 154.7 L194.9 154.7 L197.2 154.7 L199.6 154.8 L201.9 154.8 L204.1 154.8 L206.2 154.8 L208 154.9 L209.6 154.9 L211.2 154.9 L212.5 154.9 L213.8 155 L215 155 L216.1 155.1 L217.1 155.3 L218 155.6 L218.9 156 L219.7 156.5 L220.4 157.1 L221 157.7 L221.5 158.4 L222 159.1 L222.3 159.8 L222.6 160.5 L222.8 161.2 L222.8 162 L222.7 162.7 L222.6 163.5 L222.4 164.3 L222.1 165.1 L221.7 165.8 L221.3 166.5 L220.8 167.2 L220.3 167.8 L219.7 168.4 L219.1 168.9 L218.3 169.5 L217.4 170.1 L216.5 170.7 L215.4 171.3 L214.2 172 L212.9 172.7 L211.4 173.4 L209.9 174.2 L208.3 174.9 L206.5 175.7 L204.8 176.3 L202.9 176.9 L200.9 177.4 L198.9 177.9 L196.7 178.4 L194.4 178.8 L192.1 179.2 L189.8 179.5 L187.5 179.8 L185.3 180.1 L183.1 180.3 L180.9 180.4 L178.6 180.5 L176.4 180.5 L174.2 180.5 L172 180.5 L169.9 180.5 L167.8 180.6 L165.8 180.7 L163.7 180.9 L161.7 181.1 L159.8 181.3 L157.9 181.5 L156.1 181.6 L154.3 181.8 L152.7 181.8 L151.2 181.8 L149.8 181.7" fill="none" stroke="#000" stroke-width="1.1" stroke-linejoin="round" stroke-linecap="round"/>
<path d="M135.7 179.7 L134.3 179.5 L132.7 179.3 L130.8 179.1 L128.7 178.8 L126.4 178.6 L124.1 178.3 L121.7 178 L119.3 177.7 L117.1 177.4 L115.1 177.1 L113.3 176.8 L111.5 176.4 L109.8 176.1 L108.2 175.8 L106.7 175.4 L105.3 175 L103.9 174.7 L102.6 174.3 L101.4 173.9 L100.5 173.5 L99.6 173.1 L98.8 172.7 L98 172.3 L97.1 171.9 L96.2 171.6 L95.1 171.3 L93.7 171.1 L92.1 170.9 L90.2 170.8 L88.4 170.7 L86.7 170.7 L85.3 170.6 L84.3 170.6 L84 170.6" fill="none" stroke="#000" stroke-width="1.1" stroke-linejoin="round" stroke-linecap="round"/>
<path d="M84 302.9 L84.1 302.7 L84.3 302.3 L84.7 301.6 L85.2 300.7 L85.7 299.7 L86.3 298.6 L87 297.6 L87.6 296.6 L88.3 295.6 L89 294.6 L89.9 293.5 L90.7 292.4 L91.6 291.3 L92.4 290.1 L93.1 289 L93.8 287.8 L94.4 286.6 L94.9 285.3 L95.4 284 L95.9 282.7 L96.3 281.4 L96.6 280.2 L96.9 278.9 L97.1 277.8 L97.2 276.7 L97.1 275.7 L97 274.8 L96.8 273.9 L96.6 273 L96.4 272.1 L96.3 271.2 L96.3 270.3 L96.4 269.3 L96.5 268.1 L96.7 266.8 L97 265.6 L97.2 264.5 L97.4 263.6 L97.5 263 L97.6 262.8 L98 262.4 L98.9 261.4 L100.4 259.9 L102.2 258.1 L104.2 256.1 L106.3 254 L108.3 252 L110.1 250.3 L111.7 248.7 L113.4 247 L115 245.4 L116.7 243.7 L118.4 242.1 L120.2 240.5 L122 239 L123.9 237.7 L125.9 236.5 L128.1 235.4 L130.4 234.4 L132.7 233.5 L135 232.6 L137.3 231.7 L139.5 230.8 L141.5 229.9 L143.4 229 L145.2 228 L146.9 227 L148.5 226.1 L150.1 225.2 L151.8 224.3 L153.4 223.5 L155.2 222.7 L157.1 222 L159.1 221.3 L161.2 220.7 L163.2 220.1 L165.2 219.6 L167.1 219.1 L168.8 218.6 L170.3 218.2" fill="none" stroke="#000" stroke-width="1.1" stroke-linejoin="round" stroke-linecap="round"/>
<path d="M183.9 214.9 L185.3 214.7 L186.9 214.4 L188.7 214.1 L190.7 213.8 L192.7 213.4 L194.7 213.1 L196.8 212.7 L198.7 212.4 L200.4 212.2 L202.1 212 L204 211.8 L205.9 211.6 L207.6 211.5 L209.2 211.4 L210.5 211.3 L211.3 211.2 L211.6 211.2 L212.1 211.5 L213.6 212.2 L215.8 213.3 L218.5 214.6 L221.5 216.1 L224.6 217.5 L227.7 219 L230.4 220.2 L233 221.3 L235.8 222.3 L238.8 223.4 L241.7 224.4 L244.5 225.5 L247.2 226.5 L249.6 227.7 L251.7 228.9 L253.4 230.2 L254.8 231.5 L256 232.9 L257 234.3 L257.9 235.8 L258.8 237.2 L259.6 238.7 L260.5 240.2 L261.4 241.7 L262.3 243.3 L263.2 244.8 L264 246.4 L264.8 248 L265.5 249.6 L266.2 251.2 L266.8 252.8 L267.3 254.3 L267.8 255.8 L268.2 257.2 L268.5 258.6 L268.8 260.1 L269 261.7 L269.3 263.4 L269.5 265.3 L269.7 267.4 L269.9 269.8 L270.1 272.2 L270.2 274.8 L270.3 277.5 L270.4 280.1 L270.5 282.7 L270.5 285.3 L270.5 287.9 L270.5 290.6 L270.4 293.3 L270.4 296 L270.3 298.6 L270.2 301.1 L270.1 303.4 L270 305.4 L269.9 307.1 L269.8 308.5 L269.8 309.7 L269.7 310.8 L269.6 311.8 L269.5 312.8 L269.4 313.8 L269.3 315 L269.2 316.2 L269.1 317.4 L269 318.6 L268.9 319.7 L268.8 321 L268.7 322.2 L268.6 323.6 L268.5 325 L268.4 326.6 L268.3 328.2 L268.2 329.9 L268.1 331.7 L268 333.5 L267.8 335.3 L267.6 337.1 L267.3 338.8 L266.9 340.5 L266.4 342.1 L265.9 343.7 L265.4 345.3 L264.8 346.9 L264.2 348.5 L263.6 350 L263 351.4 L262.4 352.8 L261.8 354.1 L261.2 355.3" fill="none" stroke="#000" stroke-width="1.1" stroke-linejoin="round" stroke-linecap="round"/>
<path d="M257.6 367.1 L257.5 368.5 L257.3 369.9 L257.1 371.3 L256.7 372.7 L256.3 374 L255.8 375.3 L255.2 376.5 L254.6 377.8 L254 379 L253.3 380.2 L252.5 381.5 L251.7 382.7 L250.8 383.9 L249.8 385.2 L248.8 386.4 L247.7 387.7 L246.5 388.9 L245.4 390.2 L244.2 391.4 L243 392.7 L241.8 393.9 L240.5 395.2 L239.1 396.4 L237.7 397.7 L236.4 398.9 L235.1 400.2 L233.9 401.4 L232.9 402.7 L232 403.9 L231.2 405.2 L230.5 406.4 L229.9 407.6 L229.4 408.8 L228.9 410.1 L228.4 411.4 L227.9 412.8 L227.5 414.2 L227.1 415.8 L226.8 417.3 L226.5 418.9 L226.2 420.5 L226 422.1 L225.7 423.7 L225.4 425.3 L225.1 426.9 L224.8 428.4 L224.6 430 L224.3 431.5 L224 433.1 L223.7 434.7 L223.3 436.2 L222.9 437.8 L222.4 439.4 L221.9 441 L221.3 442.6 L220.6 444.2 L220 445.8 L219.3 447.4 L218.6 448.9 L217.9 450.4 L217.1 452 L216.1 453.7 L215.1 455.5 L214 457.2 L213.1 458.7 L212.3 460 L211.8 460.8 L211.6 461.1 L211 461.2 L209.5 461.4 L207.2 461.8 L204.4 462.2 L201.4 462.7 L198.3 463.2 L195.3 463.7 L192.8 464.1 L190.4 464.5 L187.6 465.1 L184.8 465.6 L182.1 466.1 L179.6 466.6 L177.6 467 L176.3 467.3 L175.8 467.4 L175.7 467.3 L175.5 467.1 L175.2 466.9 L174.8 466.5 L174.3 466 L173.8 465.4 L173.3 464.8 L172.8 464.1 L172.2 463.1 L171.5 461.9 L170.7 460.6 L169.9 459.2 L169 457.7 L168.1 456.2 L167.3 454.5 L166.5 452.9 L165.7 451.2 L164.9 449.4 L164.2 447.5 L163.4 445.5 L162.6 443.5 L161.9 441.6 L161.1 439.7 L160.3 437.8 L159.5 436 L158.7 434.1 L157.9 432.3 L157.2 430.4 L156.4 428.7 L155.6 427 L154.8 425.4 L154 424 L153.2 422.8 L152.4 421.7 L151.7 420.7 L150.9 419.9 L150.1 419.1 L149.3 418.3 L148.5 417.4 L147.7 416.5 L146.9 415.5 L146 414.5 L145.2 413.5" fill="none" stroke="#000" stroke-width="1.1" stroke-linejoin="round" stroke-linecap="round"/>
<path d="M136.1 403.6 L135 402.6 L133.9 401.4 L132.7 400.2 L131.3 398.8 L129.8 397.4 L128.2 395.8 L126.6 394.2 L124.9 392.6 L123.3 390.9 L121.7 389.3 L120.2 387.7 L118.8 386.1 L117.4 384.6 L116 383 L114.6 381.5 L113.3 379.9 L112.2 378.3 L111.1 376.8 L110.1 375.2 L109.3 373.6 L108.6 372.1 L108 370.6 L107.5 369.1 L107 367.5 L106.6 365.9 L106.2 364.3 L105.9 362.6 L105.6 360.8 L105.4 359 L105.3 357 L105.3 355.1 L105.2 353.1 L105.1 351.2 L104.9 349.4 L104.6 347.6 L104.2 345.9 L103.8 344.2 L103.3 342.6 L102.7 341 L102.1 339.5 L101.5 338 L100.8 336.5 L100.1 335.1 L99.3 333.7 L98.5 332.4 L97.6 331.1 L96.6 329.9 L95.6 328.7 L94.6 327.5 L93.6 326.2 L92.6 325 L91.5 323.6 L90.1 322 L88.7 320.4 L87.3 318.7 L86 317.3 L85 316.1 L84.3 315.3 L84 315" fill="none" stroke="#000" stroke-width="1.1" stroke-linejoin="round" stroke-linecap="round"/>
<path d="M286.5 132.8 L286.7 132.6 L287.4 132.2 L288.3 131.5 L289.5 130.6 L290.9 129.7 L292.3 128.8 L293.8 128 L295.2 127.3 L296.6 126.7 L298 126.1 L299.4 125.4 L300.9 124.9 L302.5 124.3 L304.2 123.9 L306 123.5 L307.8 123.3 L309.8 123.2 L311.9 123.2 L314.2 123.4 L316.5 123.6 L318.8 123.8 L321.1 124.2 L323.3 124.5 L325.3 124.8 L327.3 125.2 L329.3 125.6 L331.2 126 L333.1 126.5 L334.9 127 L336.5 127.5 L337.9 127.9 L339.1 128.3 L339.6 128.5 L340.1 128.8 L340.6 129.2 L340.9 129.5 L341.2 129.8 L341.4 130.1 L341.6 130.2 L341.6 130.3 L341.6 130.4 L341.5 130.8 L341.4 131.2 L341.4 131.8 L341.3 132.4 L341.2 132.8 L341.1 133.2 L341.1 133.3 L341 133.3 L340.6 133.4 L340 133.6 L339.3 133.7 L338.4 133.9 L337.4 134 L336.4 134.1 L335.3 134.1 L334.1 134 L332.7 133.8 L331.2 133.6 L329.6 133.3 L328 133.1 L326.3 132.9 L324.5 132.8 L322.8 132.8 L321 132.9 L319.2 133.2 L317.4 133.5 L315.5 133.8 L313.5 134.2 L311.6 134.6 L309.7 135 L307.8 135.3 L305.9 135.6 L303.8 136 L301.8 136.4 L299.7 136.7 L297.7 137 L295.9 137.3 L294.2 137.4 L292.7 137.3 L291.4 137 L290.2 136.4 L289.2 135.7 L288.3 134.9 L287.5 134.1 L287 133.4 L286.6 133 L286.5 132.8" fill="none" stroke="#000" stroke-width="1.1" stroke-linejoin="round" stroke-linecap="round"/>
<path d="M367.6 132.8 L367.7 132.7 L368.1 132.4 L368.7 131.9 L369.3 131.4 L369.9 131 L370.5 130.5 L370.9 130.2 L371 130.1 L371.2 130.2 L371.6 130.6 L372.2 131.1 L372.9 131.7 L373.5 132.3 L374.1 132.8 L374.5 133.2 L374.7 133.3 L374.5 133.3 L374.1 133.4 L373.5 133.6 L372.9 133.7 L372.2 133.8 L371.6 134 L371.2 134.1 L371 134.1 L370.9 134 L370.5 133.9 L369.9 133.7 L369.3 133.4 L368.7 133.2 L368.1 133 L367.7 132.9 L367.6 132.8" fill="none" stroke="#000" stroke-width="1.1" stroke-linejoin="round" stroke-linecap="round"/>
<path d="M361.2 151.1 L361.5 150.9 L362.3 150.5 L363.6 149.8 L365.2 149 L367.1 148.1 L369 147.3 L371 146.6 L372.9 146.1 L374.8 145.8 L376.9 145.6 L379.1 145.5 L381.3 145.4 L383.6 145.4 L386 145.3 L388.3 145.2 L390.5 144.9 L392.8 144.5 L395.1 144 L397.5 143.5 L399.9 142.9 L402.2 142.3 L404.4 141.8 L406.3 141.3 L408 140.9 L409.2 140.6 L410.1 140.4 L410.8 140.2 L411.5 140.1 L412.1 140 L412.9 139.9 L413.8 139.8 L415 139.8 L416.5 139.8 L418.3 139.9 L420.3 140 L422.3 140.1 L424.4 140.3 L426.4 140.5 L428.3 140.7 L430 140.9 L431.5 141.2 L432.9 141.5 L434.3 141.8 L435.6 142.2 L436.8 142.5 L437.9 142.8 L439 143.1 L440.1 143.4" fill="none" stroke="#000" stroke-width="1.1" stroke-linejoin="round" stroke-linecap="round"/>
<path d="M453.9 145.4 L454.5 145.8 L455.1 146.3 L455.6 146.9 L456.1 147.6 L456.4 148.3 L456.8 149 L457 149.7 L457.1 150.4 L457.2 151.1 L457.3 151.9 L457.3 152.8 L457.2 153.6 L457 154.4 L456.6 155.2 L456 156 L455.1 156.6 L453.9 157.2 L452.4 157.7 L450.7 158.2 L448.7 158.6 L446.7 159 L444.5 159.4 L442.3 159.7 L440.1 160 L437.8 160.2 L435.2 160.4 L432.6 160.6 L429.9 160.7 L427.2 160.7 L424.6 160.8 L422.2 160.8 L420 160.9 L418.1 161 L416.6 161 L415.1 161.1 L413.8 161.1 L412.5 161.2 L411.2 161.1 L409.7 161.1 L408 161 L406.1 160.9 L404.1 160.7 L402 160.4 L399.8 160.2 L397.5 159.9 L395.2 159.6 L392.8 159.3 L390.5 159 L388 158.7 L385.4 158.5 L382.7 158.2 L379.9 158 L377.3 157.7 L374.7 157.3 L372.4 157 L370.4 156.5 L368.6 155.9 L366.9 155.1 L365.3 154.2 L364 153.3 L362.8 152.5 L362 151.8 L361.4 151.3 L361.2 151.1" fill="none" stroke="#000" stroke-width="1.1" stroke-linejoin="round" stroke-linecap="round"/>
<path d="M245.5 182.6 L245.5 181.6 L245.6 180.6 L245.8 179.7 L246 178.8 L246.3 177.9 L246.6 177 L247 176 L247.5 175.1 L248.2 174.1 L249.1 172.9 L250.1 171.6 L251.2 170.4 L252.2 169.2 L253 168.3 L253.6 167.7 L253.8 167.5 L254.3 167.4 L255.8 167.2 L258 166.9 L260.8 166.5 L263.8 166.1 L266.9 165.7 L269.9 165.3 L272.6 165 L275.3 164.7 L278.5 164.4 L281.8 164 L285 163.7 L288 163.4 L290.4 163.2 L292 163.1 L292.6 163 L292.8 163.1 L293.4 163.4 L294.4 163.9 L295.7 164.5 L297.2 165 L298.9 165.6 L300.7 166 L302.7 166.3 L305.8 166.5 L309.5 166.5 L313.7 166.5 L318.2 166.5 L322.8 166.5 L327.2 166.5 L331.5 166.7 L335.2 167 L338.5 167.5 L341.5 168.1 L344.4 168.8 L347.1 169.6 L349.8 170.4 L352.4 171.2 L355 171.9 L357.8 172.6 L360.5 173.2 L363.2 173.8 L365.7 174.3 L368.3 174.9 L371 175.4 L373.9 176 L377 176.5 L380.4 177.1 L384.3 177.7 L388.7 178.3 L393.4 178.9 L398.2 179.6 L403 180.2 L407.6 180.8 L411.8 181.5 L415.4 182.1 L418.5 182.7 L421.3 183.4 L423.7 184 L425.9 184.6 L427.9 185.3 L429.7 185.9 L431.4 186.5 L433 187.1 L434.4 187.7 L435.7 188.2 L436.8 188.8 L437.7 189.3 L438.6 189.8 L439.3 190.4 L439.9 190.9 L440.5 191.4 L441 191.9 L441.4 192.3 L441.7 192.7 L441.9 193.1 L442 193.5 L442 194 L441.9 194.5 L441.8 195.1 L441.6 195.8 L441.4 196.5 L441.1 197.2 L440.8 198 L440.3 198.8 L439.7 199.7 L438.9 200.5 L438 201.4 L436.9 202.3 L435.5 203.2 L434.1 204.2 L432.5 205.1 L430.8 206.1 L429 207.1 L427.2 208 L425.5 208.9 L423.7 209.7 L421.9 210.5 L420 211.3 L418.1 212 L416.2 212.8 L414.2 213.6 L412.3 214.4 L410.4 215.2 L408.5 216.1 L406.6 217 L404.8 218 L402.9 219 L401 219.9 L399.1 220.9 L397.3 221.8 L395.4 222.7 L393.5 223.5 L391.7 224.4 L389.8 225.2 L387.9 225.9 L386 226.7 L384.2 227.5 L382.3 228.2 L380.4 228.9 L378.5 229.6 L376.6 230.3 L374.7 231 L372.9 231.6 L371 232.2 L369.1 232.8 L367.2 233.4 L365.3 234 L363.4 234.5 L361.5 235 L359.7 235.5 L357.8 236 L355.9 236.4 L354.1 236.9 L352.2 237.3 L350.3 237.7 L348.5 238.1 L346.6 238.6 L344.9 239.1 L343.1 239.5 L341.2 239.9 L339.3 240.3 L337.3 240.6 L335.2 240.7 L332.9 240.7 L330.6 240.5 L328.1 240.3 L325.6 240 L323 239.7 L320.4 239.4 L317.8 239.1 L315.2 239 L312.3 239 L309 239 L305.4 239.1 L302 239.3 L298.8 239.4 L296.3 239.6 L294.5 239.7 L293.9 239.7 L293.8 239.6 L293.4 239.4 L292.9 239 L292.2 238.4 L291.4 237.8 L290.6 237 L289.7 236.1 L288.9 235.2 L288.1 234.1 L287.3 232.9 L286.4 231.6 L285.5 230.1 L284.6 228.6 L283.6 227.1 L282.5 225.5 L281.4 223.9 L280.2 222.3 L278.9 220.6 L277.5 218.8 L276.1 217.1 L274.6 215.3 L273.1 213.5 L271.6 211.8 L270.1 210.2 L268.6 208.6 L267 207.1 L265.4 205.6 L263.7 204.2 L262.1 202.8 L260.5 201.4 L259 200.1 L257.5 198.9 L256.1 197.8 L254.6 196.8 L253.2 195.9 L251.8 195 L250.5 194.1 L249.4 193.3 L248.3 192.4 L247.5 191.4 L246.8 190.4 L246.3 189.3 L246 188.1 L245.8 187 L245.6 185.9 L245.5 184.7 L245.5 183.6 L245.5 182.6" fill="none" stroke="#000" stroke-width="1.1" stroke-linejoin="round" stroke-linecap="round"/>
<path d="M290.1 190.1 L290.2 189.6 L290.3 189.1 L290.4 188.6 L290.5 188.1 L290.7 187.6 L290.9 187.1 L291.1 186.7 L291.4 186.3 L291.7 186 L292.2 185.7 L292.6 185.5 L293.1 185.3 L293.6 185.2 L294.1 185.1 L294.6 185.1 L295.1 185.1 L295.6 185.2 L296.1 185.3 L296.6 185.5 L297.1 185.8 L297.6 186.1 L298 186.4 L298.5 186.8 L298.9 187.1 L299.2 187.5 L299.4 188 L299.6 188.5 L299.8 189 L300 189.5 L300.3 190 L300.7 190.3 L301.4 190.6 L302.6 190.8 L304.1 191 L305.8 191.2 L307.7 191.3 L309.6 191.4 L311.6 191.4 L313.5 191.4 L315.2 191.4 L316.9 191.3 L318.5 191.2 L320.1 191 L321.8 190.8 L323.3 190.6 L324.9 190.4 L326.3 190.2 L327.7 190.1 L329 190 L330.3 189.8 L331.5 189.7 L332.6 189.6 L333.7 189.5 L334.7 189.5 L335.7 189.5 L336.5 189.6 L337.2 189.8 L337.9 190.1 L338.4 190.4 L338.9 190.8 L339.3 191.2 L339.7 191.6 L340 192.1 L340.3 192.6 L340.5 193.1 L340.7 193.7 L340.9 194.3 L341 194.9 L341 195.6 L341 196.2 L340.9 196.9 L340.8 197.6 L340.6 198.3 L340.3 199.1 L339.9 199.9 L339.5 200.8 L339.1 201.6 L338.6 202.3 L338.1 202.9 L337.7 203.4 L337.3 203.7 L336.9 204 L336.5 204.1 L336.1 204.2 L335.7 204.1 L335.2 204.1 L334.6 204 L334 203.9 L333.1 203.7 L332.1 203.5" fill="none" stroke="#000" stroke-width="1.1" stroke-linejoin="round" stroke-linecap="round"/>
<path d="M319.2 199.2 L318 198.9 L316.8 198.7 L315.4 198.5 L314.1 198.3 L312.7 198 L311.4 197.8 L310.2 197.6 L309 197.4 L307.8 197.1 L306.6 196.7 L305.4 196.4 L304.3 196.2 L303.2 196 L302.3 195.9 L301.4 195.9 L300.7 196.1 L300.1 196.4 L299.7 196.9 L299.3 197.4 L298.9 197.9 L298.5 198.4 L298.1 198.7 L297.6 198.9 L297 198.9 L296.4 198.8 L295.7 198.7 L295 198.4 L294.3 198.1 L293.7 197.8 L293.1 197.5 L292.6 197.1 L292.2 196.7 L291.7 196.2 L291.4 195.7 L291 195.2 L290.7 194.6 L290.5 194.1 L290.3 193.6 L290.1 193.1 L290 192.7 L289.9 192.3 L289.9 191.9 L289.9 191.6 L289.9 191.2 L290 190.9 L290 190.5 L290.1 190.1" fill="none" stroke="#000" stroke-width="1.1" stroke-linejoin="round" stroke-linecap="round"/>
<path d="M486 145.4 L486.6 144.4 L487.3 143.3 L488.3 142.2 L489.4 141 L490.7 139.8 L492.1 138.7 L493.6 137.6 L495.2 136.6 L497 135.7 L498.9 134.8 L501 133.9 L503.2 133.1 L505.5 132.3 L507.9 131.6 L510.3 130.9 L512.8 130.3 L515.3 129.7 L518 129.2 L520.7 128.7 L523.4 128.3 L526.3 127.9 L529.2 127.6 L532.2 127.4 L535.3 127.3 L538.5 127.3 L541.8 127.4 L545.3 127.6 L548.8 127.9 L552.3 128.2 L555.9 128.5 L559.4 128.8 L562.9 129.1 L566.3 129.4 L569.8 129.7 L573.2 130.1 L576.6 130.4 L580 130.8 L583.5 131.1 L587 131.4 L590.5 131.6 L594.1 131.8 L597.7 131.8 L601.4 131.9 L605.1 131.9 L608.8 131.9 L612.5 132 L616.3 132.1 L620 132.3 L623.8 132.6 L627.7 132.8 L631.6 133.2 L635.5 133.5 L639.3 133.9 L643.1 134.3 L646.7 134.8 L650.1 135.3 L653.3 135.8 L656.5 136.4 L659.5 137 L662.4 137.6 L665.2 138.3 L667.8 139 L670.3 139.7 L672.7 140.4 L674.9 141.1 L677 141.9 L679 142.6 L680.8 143.4 L682.5 144.2 L684 145 L685.3 145.8 L686.5 146.6 L687.5 147.4 L688.3 148.1 L689 148.9 L689.4 149.7 L689.8 150.4 L690 151.2 L690.2 152.1 L690.2 152.9 L690.2 153.8 L690 154.7 L689.8 155.7 L689.4 156.6 L689 157.6 L688.3 158.6 L687.5 159.5 L686.5 160.4 L685.3 161.3 L683.8 162.1 L682.1 162.9 L680.3 163.7 L678.4 164.5 L676.5 165.3 L674.6 166 L672.7 166.7 L670.9 167.4 L669.1 168.1 L667.2 168.7 L665.3 169.3 L663.4 169.9 L661.5 170.5 L659.5 170.9 L657.5 171.3 L655.4 171.6 L653.1 171.8 L650.8 171.9 L648.4 171.9 L646.1 172 L643.9 172 L641.8 172 L640 172 L638.5 172 L637.3 172 L636.3 172 L635.3 172 L634.4 172 L633.4 172 L632.1 172 L630.5 172.1 L628 172.2 L625.1 172.4 L621.8 172.5 L618.3 172.7 L614.8 172.9 L611.3 173.2 L608.2 173.5 L605.4 173.8 L603 174.2 L600.9 174.6 L599 175.1 L597.1 175.6 L595.4 176.1 L593.8 176.6 L592.1 177.1 L590.4 177.6 L588.5 178.1 L586.4 178.7 L584.2 179.3 L582.1 179.9 L580.2 180.5 L578.7 180.9 L577.7 181.2 L577.3 181.3 L577.3 181.5 L577.2 182.2 L577.1 183.2 L576.9 184.4 L576.7 185.6 L576.4 186.9 L576.1 188 L575.8 188.8 L575.3 189.5 L574.7 190.1 L574.1 190.6 L573.3 191.1 L572.7 191.5 L572.1 191.8 L571.7 192 L571.6 192.1 L571.4 191.9 L570.9 191.2 L570.2 190.3 L569.5 189.2 L568.7 188.1 L568 187.2 L567.5 186.5 L567.3 186.3 L567.2 186.4 L566.8 186.8 L566.4 187.4 L565.7 188.1 L565 188.9 L564.3 189.7 L563.5 190.6 L562.8 191.4 L562 192.3 L561.1 193.5 L560 194.7 L559 195.9 L558 197.1 L557.2 198 L556.7 198.7 L556.5 198.9 L556.5 199.1 L556.6 199.7 L556.8 200.5 L556.9 201.4 L557 202.3 L557.2 203.1 L557.3 203.7 L557.3 203.9 L557 204.1 L556.3 204.5 L555.3 205.1 L554 206 L552.6 206.9 L551.2 208 L550 209.1 L549 210.2 L548.2 211.4 L547.5 212.8 L546.8 214.2 L546.1 215.8 L545.5 217.3 L545 218.8 L544.5 220.2 L544 221.4 L543.5 222.6 L543.1 223.7 L542.7 224.9 L542.3 225.9 L542 226.8 L541.7 227.6 L541.6 228 L541.5 228.2 L541.7 228.3 L542.2 228.6 L542.9 229 L543.8 229.5 L544.9 230 L545.9 230.6 L546.9 231.1 L547.8 231.5 L548.7 231.9 L549.8 232.3 L550.9 232.7 L552 233.1 L553 233.5 L553.8 233.7 L554.3 233.9 L554.5 234 L554.4 234.1 L554.1 234.4 L553.6 234.9 L553 235.5 L552.3 236.1 L551.6 236.7 L550.9 237.2 L550.3 237.7 L549.7 238.1 L549.1 238.4 L548.5 238.6 L547.8 238.9 L547.2 239.1 L546.6 239.4 L545.9 239.8 L545.3 240.2 L544.6 240.8 L543.8 241.5 L543 242.3 L542.2 243.2 L541.4 243.9 L540.8 244.6 L540.4 245 L540.3 245.2 L540.1 245.1 L539.5 244.7 L538.7 244.1 L537.7 243.4 L536.6 242.6 L535.6 241.8 L534.7 241 L534 240.2 L533.5 239.4 L533 238.4 L532.6 237.4 L532.2 236.4 L531.9 235.5 L531.7 234.7 L531.5 234.2 L531.5 234 L531.7 233.8 L532.1 233.1 L532.7 232.2 L533.4 231.1 L534 230 L534.6 229.1 L535 228.4 L535.2 228.2 L535.2 228 L535 227.5 L534.8 226.8 L534.6 225.9 L534.3 224.8 L533.9 223.6 L533.6 222.5 L533.2 221.4 L532.8 220.3 L532.4 219.1 L531.9 217.8 L531.4 216.5 L530.8 215.2 L530.2 213.9 L529.6 212.6 L529 211.4 L528.3 210.2 L527.6 209 L526.9 207.9 L526.1 206.7 L525.3 205.6 L524.5 204.5 L523.6 203.5 L522.7 202.6 L521.8 201.7 L520.8 200.9 L519.8 200.1 L518.8 199.4 L517.7 198.8 L516.5 198.2 L515.3 197.6 L513.9 197.1 L512.4 196.7 L510.8 196.4 L509.1 196.1 L507.3 195.9 L505.5 195.8 L503.7 195.6 L501.9 195.4 L500.2 195.1 L498.6 194.8 L496.9 194.5 L495.3 194.2 L493.7 193.9 L492.1 193.6 L490.5 193.2 L489 192.7 L487.6 192.1 L486.2 191.4 L484.8 190.6 L483.4 189.8 L482 188.9 L480.7 187.9 L479.5 187 L478.5 186 L477.6 185.1 L476.8 184.2 L476.2 183.3 L475.7 182.4 L475.3 181.5 L475 180.5 L474.8 179.6 L474.6 178.6 L474.6 177.6 L474.6 176.6 L474.8 175.5 L475 174.5 L475.4 173.4 L475.8 172.3 L476.3 171.2 L476.9 170 L477.6 168.8 L478.5 167.5 L479.6 166 L480.8 164.5 L482.1 162.9 L483.4 161.4 L484.6 160 L485.6 158.7 L486.4 157.5 L486.9 156.7 L487.2 155.9 L487.5 155.2 L487.6 154.6 L487.7 154 L487.7 153.4 L487.7 152.7 L487.7 152 L487.6 151.2 L487.2 150.5 L486.8 149.7 L486.4 148.9 L486 148.1 L485.7 147.2 L485.7 146.3 L486 145.4" fill="none" stroke="#000" stroke-width="1.1" stroke-linejoin="round" stroke-linecap="round"/>
<path d="M545.4 141.6 L547 141.7 L548.9 141.8 L551 142 L553.2 142.2 L555.5 142.4 L557.9 142.6 L560.4 142.7 L562.9 142.9 L565.5 143.1 L568.4 143.2 L571.3 143.4 L574.3 143.5 L577.3 143.7 L580.2 143.8 L583 144 L585.5 144.1 L588 144.2 L590.6 144.4 L593.3 144.5 L595.7 144.6 L597.9 144.7 L599.6 144.8 L600.8 144.9 L601.2 144.9 L601.1 145.1 L600.7 145.7 L600.3 146.5 L599.8 147.4 L599.2 148.2 L598.8 149 L598.4 149.6 L598.3 149.8 L598.1 149.9 L597.5 150 L596.7 150.2 L595.6 150.5 L594.3 150.8 L592.9 151.1 L591.5 151.4 L590 151.6 L588.5 151.8 L586.9 152.1 L585.2 152.3 L583.4 152.6 L581.5 152.8 L579.6 153 L577.5 153.2 L575.4 153.4 L573.1 153.5 L570.7 153.6 L568.2 153.7 L565.6 153.8 L563 153.8 L560.4 153.9 L557.8 154 L555.4 154.1 L552.8 154.3 L550 154.6 L547.1 154.9 L544.2 155.2 L541.7 155.4 L539.7 155.7 L538.3 155.8 L537.8 155.9 L537.5 155.7 L536.5 155.3 L535.2 154.6 L533.6 153.8 L531.9 152.9 L530.3 152 L528.9 151.2 L527.8 150.4 L527 149.6 L526.4 148.8 L525.8 147.9 L525.4 147 L525 146.2 L524.8 145.5 L524.6 145.1 L524.6 144.9 L524.8 144.8 L525.4 144.5 L526.2 144 L527.2 143.5 L528.4 142.9 L529.5 142.4 L530.6 141.9 L531.6 141.6" fill="none" stroke="#000" stroke-width="1.1" stroke-linejoin="round" stroke-linecap="round"/>
<path d="M427.1 51 L427.1 51.8 L427.1 53.8 L427.1 56.8 L427.2 60.5 L427.3 64.5 L427.4 68.5 L427.5 72.2 L427.7 75.2 L427.9 77.8 L428.2 80.2 L428.5 82.6 L428.9 84.8 L429.3 87 L429.7 89 L430.1 90.9 L430.6 92.7 L431.1 94.3 L431.8 95.9 L432.4 97.2 L433.1 98.5 L433.8 99.7 L434.5 100.8 L435.1 101.8 L435.7 102.8" fill="none" stroke="#000" stroke-width="1.1" stroke-linejoin="round" stroke-linecap="round"/>
<path d="M443.9 112.7 L445 113.4 L446.4 114 L448 114.5 L449.7 115 L451.7 115.5 L453.7 115.9 L455.9 116.3 L458.1 116.6 L460.4 117 L462.7 117.3 L465 117.6 L467.5 117.9 L470 118.2 L472.6 118.4 L475.2 118.6 L477.8 118.8 L480.3 118.9 L482.7 119 L485 119.1 L487.3 119.1 L489.5 119.1 L491.7 119.1 L493.8 119 L496 118.9 L498.1 118.6 L500.3 118.3 L502.5 117.8 L504.6 117.2 L506.8 116.5 L508.9 115.8 L511.1 115 L513.3 114.2 L515.5 113.5 L517.8 112.8 L520.2 112.2 L522.7 111.5 L525.2 110.8 L527.8 110.2 L530.4 109.6 L532.9 109.1 L535.4 108.7 L537.8 108.5 L540.1 108.4 L542.3 108.5 L544.5 108.6 L546.6 108.9 L548.7 109.2 L550.9 109.5 L553.1 109.9 L555.4 110.3 L557.8 110.7 L560.1 111.2 L562.5 111.8 L564.9 112.4 L567.4 113 L570 113.6 L572.6 114.2 L575.4 114.8 L578.3 115.3 L581.3 115.9 L584.5 116.4 L587.7 116.9 L590.9 117.4 L594.1 117.9 L597.4 118.4 L600.5 118.8 L603.6 119.2 L606.7 119.6 L609.9 120 L613 120.4 L616.1 120.8 L619.1 121.1 L622.1 121.4 L625.1 121.7 L628.1 122 L631.3 122.2 L634.4 122.4 L637.5 122.7 L640.4 122.8 L643.2 123 L645.6 123.2" fill="none" stroke="#000" stroke-width="1.1" stroke-linejoin="round" stroke-linecap="round"/>
<path d="M661.2 124.5 L662.7 124.6 L664.5 124.7 L666.5 124.8 L668.6 124.9 L670.9 125 L673.3 125.2 L675.6 125.3 L678 125.5 L680.2 125.8 L682.4 126.1 L684.6 126.4 L686.9 126.8 L689.1 127.1 L691.3 127.6 L693.5 128 L695.6 128.5 L697.7 129.1 L699.7 129.7 L701.6 130.4 L703.4 131.2 L705.2 132 L707.1 132.8 L708.9 133.7 L710.8 134.5 L712.8 135.3 L714.9 136.1 L717 136.8 L719.2 137.6 L721.4 138.4 L723.6 139.1 L725.9 139.9 L728.1 140.8 L730.3 141.6 L732.6 142.5 L734.9 143.4 L737.3 144.4 L739.6 145.4 L741.9 146.4 L744.1 147.3 L746.1 148.2 L747.9 149.1 L749.5 149.9 L750.9 150.7 L752.2 151.5 L753.4 152.2 L754.5 152.9 L755.4 153.6 L756.3 154.3 L757 155 L757.6 155.7 L758.1 156.3 L758.4 156.9 L758.7 157.5 L758.8 158.1 L758.9 158.7 L759 159.3 L759 160 L759 160.7 L758.9 161.4 L758.7 162.2 L758.5 162.9 L758.3 163.7 L758 164.5 L757.8 165.2 L757.5 166 L757.3 166.8 L757 167.5 L756.7 168.3 L756.5 169.1 L756.1 169.9 L755.8 170.6 L755.4 171.3 L755 172 L754.5 172.6 L754 173.2 L753.5 173.7 L753 174.2 L752.4 174.7 L751.7 175.2 L751 175.8 L750.3 176.5 L749.5 177.3 L748.6 178 L747.7 178.9 L746.7 179.8 L745.7 180.7 L744.7 181.6 L743.7 182.6 L742.8 183.6 L741.8 184.6 L740.8 185.7 L739.8 186.8 L738.8 187.9 L737.8 189.1 L736.9 190.2 L736.2 191.4 L735.7 192.6 L735.4 193.8 L735.3 195 L735.4 196.2 L735.6 197.4 L735.8 198.6 L736 199.9 L736.1 201.2 L736 202.6 L735.7 204.2 L735.3 206.2 L734.7 208.2 L734.2 210.3 L733.6 212.2 L733.1 213.8 L732.8 214.8 L732.7 215.2 L732.8 215.4 L733.1 216.1 L733.6 217 L734.1 218.1 L734.7 219.4 L735.4 220.6 L736 221.8 L736.5 222.7 L737 223.6 L737.6 224.5 L738.3 225.4 L738.9 226.3 L739.4 227 L739.9 227.6 L740.2 228.1 L740.3 228.2 L740.2 228.4 L739.9 228.8 L739.5 229.5 L738.9 230.3 L738.3 231.2 L737.7 232.2 L737.1 233.1 L736.5 234 L736 234.8 L735.4 235.7 L734.8 236.6 L734.2 237.6 L733.7 238.5 L733.1 239.5 L732.6 240.5 L732.2 241.5 L731.9 242.6 L731.7 243.7 L731.5 244.9 L731.4 246.1 L731.3 247.3 L731 248.4 L730.7 249.4 L730.2 250.3 L729.5 251 L728.7 251.7 L727.7 252.2" fill="none" stroke="#000" stroke-width="1.1" stroke-linejoin="round" stroke-linecap="round"/>
<path d="M717.9 257.9 L717.1 258.5 L716.4 259 L715.6 259.6 L714.7 260.2 L713.8 260.8 L712.9 261.4 L712.1 262 L711.5 262.4 L711.1 262.7 L710.9 262.8 L710.9 263 L710.9 263.6 L711 264.5 L711 265.6 L711.1 266.8 L711.2 268.1 L711.3 269.3 L711.4 270.3 L711.6 271.2 L711.8 272.1 L712.1 273 L712.4 273.9 L712.7 274.8 L713 275.7 L713.1 276.7 L713.2 277.8 L713.2 278.9 L713.1 280.1 L712.9 281.4 L712.7 282.6 L712.4 283.9 L712.1 285.2 L711.8 286.5 L711.4 287.8 L710.9 289.2 L710.3 290.8 L709.6 292.5 L708.9 294.1 L708.3 295.6 L707.7 296.8 L707.3 297.6 L707.2 297.9 L707.3 298.1 L707.5 298.7 L707.8 299.6 L708.2 300.7 L708.6 302 L709.1 303.2 L709.7 304.4 L710.2 305.4 L710.8 306.2 L711.4 307 L712.1 307.6 L712.8 308.3 L713.6 309.1 L714.3 310 L715 311.1 L715.6 312.5 L716.2 314.4 L716.8 316.8 L717.4 319.4 L717.9 322.2 L718.5 325 L719.2 327.8 L719.9 330.3 L720.7 332.6 L721.7 334.7 L723 337 L724.5 339.1 L725.9 341.2 L727.3 342.9 L728.4 344.3 L729.1 345.3 L729.4 345.6 L729.2 345.8 L728.7 346.4 L728 347.3 L727.1 348.3 L726.1 349.5 L725.1 350.6 L724.1 351.7 L723.2 352.6 L722.3 353.4 L721.2 354.3 L720.1 355.3 L719 356.1 L718 356.9 L717.2 357.5 L716.6 357.9 L716.4 358.1 L716.5 358.4 L716.6 359.3 L716.8 360.5 L717.1 362.1 L717.3 363.8 L717.5 365.6 L717.6 367.4 L717.6 368.9 L717.4 370.5 L717.1 372.3 L716.7 374.3 L716.3 376.2 L715.8 378 L715.5 379.4 L715.2 380.3 L715.1 380.7 L715.8 381.2 L717.6 382.7 L720.2 384.7 L723.2 386.9 L726.1 389.2 L728.7 391.2 L730.5 392.7 L731.2 393.2 L731.4 393.7 L731.8 395.1 L732.5 397.1 L733.3 399.6 L734.3 402.4 L735.2 405.2 L736.1 407.9 L736.9 410.3 L737.6 412.5 L738.4 414.9 L739.2 417.3 L740 419.7 L740.8 422 L741.5 424.2 L742.1 426.1 L742.5 427.8 L742.7 428.9 L742.8 429.8 L742.8 430.6 L742.8 431.3 L742.7 431.9 L742.6 432.6 L742.6 433.3 L742.7 434.1 L742.8 434.9 L743 435.8" fill="none" stroke="#000" stroke-width="1.1" stroke-linejoin="round" stroke-linecap="round"/>
<path d="M746 446.4 L746.4 447.6 L746.7 448.7 L747 449.9 L747.3 451.1 L747.6 452.3 L747.9 453.5 L748.2 454.7 L748.6 456 L748.9 457.3 L749.2 458.6 L749.5 460 L749.8 461.4 L750 462.7 L750.2 464 L750.4 465.4 L750.7 466.8 L751 468.5 L751.5 470.3 L752 472.5 L752.7 475.1 L753.5 478.1 L754.4 481.4 L755.4 484.9 L756.4 488.4 L757.4 491.7 L758.5 494.9 L759.5 497.6 L760.6 500 L761.7 502.2 L762.9 504.2 L764.1 506 L765.3 507.8 L766.4 509.4 L767.4 511 L768.3 512.6 L769.1 514.2 L769.9 515.9 L770.7 517.6 L771.4 519.2 L772 520.6 L772.4 521.7 L772.7 522.4 L772.8 522.7 L772.8 523 L772.8 523.8 L772.8 525 L772.8 526.6 L772.7 528.5 L772.5 530.6 L772.3 532.9 L772 535.2 L771.6 537.8 L771 540.7 L770.4 543.9 L769.8 547.2 L769.1 550.6 L768.3 554 L767.7 557.3 L767 560.3 L766.3 563.4 L765.5 566.9 L764.7 570.4 L763.9 573.8 L763.1 576.9 L762.5 579.4 L762.1 581 L762 581.6 L762.1 582.4 L762.2 584.7 L762.4 588.1 L762.6 592.4 L762.9 597 L763.1 601.8 L763.2 606.4 L763.3 610.4 L763.3 614.5 L763.2 619.1 L763.1 624 L762.9 628.8 L762.8 633.2 L762.6 636.7 L762.5 639.1 L762.5 640" fill="none" stroke="#000" stroke-width="1.1" stroke-linejoin="round" stroke-linecap="round"/>
<path d="M612 51 L611.9 51.6 L611.7 53.2 L611.5 55.6 L611.2 58.5 L610.8 61.6 L610.5 64.8 L610.2 67.7 L610 70.2 L609.8 72.3 L609.7 74.3 L609.5 76.3 L609.4 78.2 L609.4 80 L609.3 81.8 L609.4 83.5 L609.5 85.2 L609.7 86.8 L609.8 88.3 L610.1 89.8 L610.3 91.2 L610.7 92.6 L611.2 93.9 L611.8 95.2 L612.5 96.5 L613.4 97.7 L614.4 98.9 L615.4 100.1 L616.6 101.2 L618 102.2 L619.4 103.3 L620.9 104.3 L622.6 105.3 L624.4 106.3 L626.4 107.3 L628.5 108.2 L630.7 109.1 L633 110 L635.4 110.8 L637.7 111.6 L640.1 112.3 L642.5 112.9 L644.9 113.5 L647.5 114.1 L650 114.5 L652.6 115 L655.1 115.3 L657.7 115.6 L660.2 115.8 L662.7 115.9 L665.1 116 L667.5 115.9 L669.9 115.8 L672.3 115.7 L674.8 115.4 L677.5 115.1 L680.2 114.8 L683.1 114.4 L686.1 113.9 L689.2 113.3 L692.4 112.6 L695.7 111.9 L698.9 111.2 L702.1 110.5 L705.3 109.8 L708.5 109.1 L711.7 108.3 L714.9 107.6 L718.1 106.8 L721.3 106 L724.4 105.2 L727.4 104.4 L730.3 103.5 L733 102.6 L735.7 101.6 L738.2 100.6 L740.7 99.6 L743.1 98.6 L745.5 97.7 L747.9 96.8 L750.4 96 L752.9 95.3 L755.4 94.6 L757.9 93.9 L760.4 93.3 L762.9 92.8 L765.4 92.3 L767.9 91.9 L770.4 91.5 L773 91.2 L775.6 91 L778.4 90.9 L781 90.9 L783.7 90.8 L786.1 90.8 L788.4 90.8 L790.5 90.7 L792.4 90.6 L794.3 90.5 L796.1 90.4 L797.7 90.4 L799 90.3 L800.1 90.2 L800.8 90.2 L801 90.2" fill="none" stroke="#000" stroke-width="1.1" stroke-linejoin="round" stroke-linecap="round"/>
<path d="M749.6 122.1 L749.8 122 L750.2 121.7" fill="none" stroke="#000" stroke-width="1.1" stroke-linejoin="round" stroke-linecap="round"/>
<path d="M762.4 117.1 L763.8 116.8 L765.4 116.5 L767.2 116.1 L769.2 115.7 L771.4 115.3 L773.7 114.9 L776 114.5 L778.4 114.1 L780.7 113.8 L783 113.5 L785.5 113.2 L788.3 113 L791.3 112.8 L794.2 112.6 L796.9 112.5 L799 112.4 L800.5 112.3 L801 112.3" fill="none" stroke="#000" stroke-width="1.1" stroke-linejoin="round" stroke-linecap="round"/>
<path d="M801 125.3 L800.7 125.4 L800 125.6 L798.8 125.8 L797.4 126.1 L795.7 126.5 L793.9 126.8 L792.2 127.1 L790.5 127.3 L788.9 127.4 L787.2 127.6 L785.4 127.7 L783.5 127.8 L781.6 127.8 L779.6 127.8 L777.6 127.8 L775.4 127.8 L773 127.8 L770.4 127.7 L767.6 127.6 L764.8 127.5 L762.1 127.4 L759.5 127.2 L757.3 126.9 L755.4 126.6 L754.1 126.2 L753 125.6 L752 124.8 L751.2 124.1 L750.5 123.3 L750 122.7 L749.7 122.3 L749.6 122.1" fill="none" stroke="#000" stroke-width="1.1" stroke-linejoin="round" stroke-linecap="round"/>
<path d="M784.1 380.7 L784.8 379.9 L786.7 377.8 L789.3 374.8 L792.4 371.3 L795.4 367.8 L798 364.8 L799.9 362.7 L800.6 361.9" fill="none" stroke="#000" stroke-width="1.1" stroke-linejoin="round" stroke-linecap="round"/>
<path d="M800.6 397.2 L799.9 396.5 L798 394.6 L795.4 392 L792.4 388.9 L789.3 385.9 L786.7 383.3 L784.8 381.4 L784.1 380.7" fill="none" stroke="#000" stroke-width="1.1" stroke-linejoin="round" stroke-linecap="round"/>
<path d="M335.1 345.3 L335.2 345 L335.4 344 L335.8 342.7 L336.2 341.1 L336.8 339.4 L337.4 337.8 L338.1 336.4 L338.8 335.3 L339.5 334.6 L340.2 334.1 L341 333.7 L341.9 333.5 L342.8 333.3 L343.8 333 L345 332.7 L346.4 332.3 L348 331.8 L349.9 331.2 L351.9 330.5 L354.1 329.8 L356.3 329.2 L358.5 328.5 L360.7 327.8 L362.7 327.2 L364.7 326.7 L366.6 326.2 L368.5 325.8 L370.4 325.4 L372.3 324.9 L374.2 324.4 L376 323.6 L377.7 322.7 L379.4 321.5 L381.1 320.1 L382.7 318.5 L384.3 316.9 L385.8 315.2 L387.3 313.4 L388.8 311.8 L390.2 310.2 L391.6 308.7 L393 307.3 L394.4 305.9 L395.7 304.5 L397 303.1 L398.2 301.7 L399.3 300.3 L400.3 298.9 L401.2 297.5 L401.9 296 L402.5 294.5 L403 293 L403.6 291.6 L404.1 290.2 L404.7 288.8 L405.3 287.6 L406 286.5 L406.6 285.4 L407.2 284.5 L407.9 283.6 L408.6 282.7 L409.4 281.9 L410.4 281 L411.5 280.1 L412.9 279.2 L414.4 278.3 L416.1 277.5 L417.8 276.6 L419.7 275.8 L421.6 274.9 L423.5 274 L425.3 273.1 L427.2 272.1 L429.1 271.1 L431.1 270.1 L433.1 269 L435.1 268 L437 266.9 L438.7 266 L440.4 265.1 L441.9 264.3 L443.3 263.4 L444.7 262.6 L446 261.9 L447.2 261.1 L448.3 260.5 L449.4 260 L450.4 259.6 L451.3 259.3 L452.2 259.1 L452.9 259 L453.6 258.9 L454.3 259 L455 259.1 L455.7 259.3 L456.6 259.6 L457.6 260 L458.6 260.5 L459.7 261.2 L460.8 261.9 L462 262.6 L463.1 263.5 L464.3 264.3 L465.4 265.1 L466.5 265.9 L467.7 266.8 L468.8 267.7 L470 268.6 L471.1 269.5 L472.2 270.5 L473.2 271.5 L474.2 272.6 L475.1 273.7 L475.9 274.9 L476.8 276.1 L477.5 277.3 L478.2 278.5 L478.9 279.9 L479.5 281.2 L480 282.6 L480.4 284.1 L480.8 285.7 L481.1 287.3 L481.3 289 L481.5 290.6 L481.7 292.3 L482 293.8 L482.2 295.2 L482.5 296.5 L482.7 297.7 L482.9 298.8 L483.1 299.9 L483.4 300.9 L483.6 301.9 L483.9 302.9 L484.2 303.9 L484.5 304.8 L484.8 305.7" fill="none" stroke="#000" stroke-width="1.1" stroke-linejoin="round" stroke-linecap="round"/>
<path d="M490.4 316.7 L491 317.8 L491.7 319 L492.4 320.2 L493.2 321.5 L494 322.8 L494.8 324.2 L495.6 325.7 L496.4 327.1 L497.2 328.7 L498 330.3 L498.8 332.2 L499.7 334.5 L500.6 337 L501.5 339.4 L502.3 341.7 L502.9 343.6 L503.3 344.8 L503.5 345.3 L503.4 345.7 L503.1 346.7 L502.6 348.2 L502.1 350 L501.6 352 L501.1 354.1 L500.7 356.1 L500.5 357.8 L500.5 359.4 L500.5 360.9 L500.7 362.5 L500.9 364.1 L501.2 365.7 L501.4 367.3 L501.6 368.8 L501.8 370.4 L501.9 372 L502.1 373.5 L502.2 375.1 L502.4 376.7 L502.5 378.2 L502.5 379.8 L502.5 381.3 L502.5 382.9 L502.4 384.5 L502.2 386.1 L502 387.7 L501.7 389.3 L501.4 390.9 L501.1 392.5 L500.8 394 L500.5 395.4 L500.3 396.8 L500.1 398.1 L499.9 399.4 L499.8 400.7 L499.5 401.9 L499.2 403 L498.7 404 L498 405 L497.1 405.9 L495.9 406.6 L494.6 407.2 L493.2 407.8 L491.8 408.4 L490.4 408.9 L489.1 409.5 L488 410.1 L487.1 410.7 L486.2 411.2 L485.4 411.8 L484.7 412.3 L484.1 412.9 L483.5 413.5 L483 414.2 L482.5 415.1 L482.1 416.1 L481.9 417.2 L481.7 418.4 L481.5 419.7 L481.4 421 L481.3 422.4 L481.2 423.8 L481 425.1 L480.8 426.4 L480.7 427.7 L480.6 429.1 L480.5 430.4 L480.3 431.8 L480.1 433.3 L479.7 434.8 L479.2 436.4 L478.5 438.1 L477.7 439.9 L476.8 441.8 L475.8 443.7 L474.8 445.7 L473.7 447.6 L472.7 449.6 L471.7 451.4 L470.8 453.2 L469.8 454.8 L468.8 456.5 L467.9 458.1 L466.9 459.8 L466 461.5 L465.1 463.3 L464.2 465.2 L463.4 467.3 L462.5 469.5 L461.7 471.9 L461 474.3 L460.2 476.6 L459.4 478.9 L458.7 480.9 L457.9 482.7 L457.1 484.2 L456.4 485.5 L455.7 486.6 L455 487.6 L454.2 488.5 L453.4 489.4 L452.6 490.2 L451.6 491 L450.5 491.8 L449.3 492.5 L448 493.1 L446.6 493.7 L445.3 494.2 L444 494.7 L442.7 495.3 L441.6 495.8 L440.6 496.3 L439.6 496.8" fill="none" stroke="#000" stroke-width="1.1" stroke-linejoin="round" stroke-linecap="round"/>
<path d="M430.2 503.7 L429.6 504.5 L429.1 505.3 L428.6 506.1 L428.2 507 L427.8 508 L427.4 508.9 L427.1 509.9 L426.9 510.9 L426.7 511.8 L426.6 512.8 L426.6 513.7 L426.8 514.6 L427.1 515.5 L427.5 516.4 L427.8 517.3 L428.1 518.2 L428.3 519.2 L428.3 520.3 L428.2 521.4 L427.9 522.6 L427.5 523.9 L427.1 525.2 L426.6 526.5 L426.2 527.8 L425.7 529.1 L425.3 530.4 L424.9 531.7 L424.5 533 L424 534.3 L423.5 535.6 L423.1 536.8 L422.7 538.1 L422.4 539.3 L422.1 540.4 L421.9 541.5 L421.9 542.5 L421.8 543.5 L421.9 544.5 L421.9 545.4 L421.9 546.3 L421.8 547.1 L421.6 547.9 L421.3 548.6 L420.9 549.2 L420.4 549.7 L419.9 550.2 L419.5 550.7 L419 551.2 L418.6 551.8 L418.3 552.4 L418.1 553.2 L418 554.1 L417.9 555.2 L417.8 556.2 L417.8 557.2 L417.8 558 L417.8 558.5 L417.8 558.7 L417.7 558.7 L417.3 558.7 L416.9 558.7 L416.3 558.7 L415.7 558.7 L415.3 558.7 L414.9 558.7 L414.8 558.7 L414.8 558.5 L414.8 558 L414.9 557.2 L414.9 556.2 L414.9 555.2 L414.9 554.1 L414.9 553.2 L414.8 552.4 L414.6 551.8 L414.4 551.2 L414.1 550.6 L413.8 550.1 L413.5 549.5 L413.2 549 L412.9 548.5 L412.8 547.9 L412.8 547.3 L412.8 546.8 L412.9 546.3 L413.1 545.7 L413.2 545.2 L413.3 544.5 L413.4 543.8 L413.3 542.9 L413.1 541.7 L412.8 540.2 L412.4 538.7 L412 537 L411.5 535.2 L411.1 533.5 L410.7 531.9 L410.3 530.4 L409.9 529 L409.5 527.8 L409.1 526.5 L408.7 525.4 L408.4 524.2 L408.1 522.9 L407.9 521.7 L407.8 520.3 L407.9 518.8 L408.1 517.3 L408.5 515.6 L408.9 514 L409.3 512.3 L409.7 510.7 L409.8 509.2 L409.8 507.8 L409.6 506.5 L409.3 505.4 L408.9 504.3 L408.5 503.3 L407.9 502.3 L407.1 501.3 L406.3 500.2 L405.3 499 L404.1 497.7 L402.7 496.4 L401.1 495 L399.4 493.6 L397.7 492.1 L395.9 490.7 L394.3 489.2 L392.7 487.7 L391.2 486.2 L389.7 484.7 L388.2 483.1 L386.7 481.5 L385.3 479.9 L383.9 478.4 L382.7 476.8 L381.5 475.2 L380.5 473.6 L379.7 472 L378.9 470.5 L378.3 468.9 L377.6 467.3 L376.9 465.7 L376.1 464.2 L375.2 462.7 L374.1 461.2 L373 459.7 L371.8 458.3 L370.5 456.8 L369.2 455.4 L367.9 454 L366.5 452.7 L365.2 451.4 L363.8 450.2 L362.3 449 L360.8 447.9 L359.2 446.8 L357.7 445.7 L356.3 444.6 L355 443.6 L353.9 442.6 L353 441.6 L352.1 440.6 L351.4 439.7 L350.7 438.8 L350.2 437.9 L349.8 436.9 L349.5 436 L349.4 435.1 L349.4 434.2 L349.6 433.2 L349.8 432.2 L350.2 431.3 L350.7 430.3 L351.3 429.4 L351.9 428.5 L352.6 427.6 L353.3 426.8 L354.2 425.9 L355.1 425.1 L356.1 424.4 L357.1 423.6 L358.2 422.8 L359.2 422.1 L360.2 421.3 L361.2 420.5 L362.3 419.8 L363.5 419.1 L364.6 418.4 L365.7 417.7 L366.7 416.9 L367.5 416.1 L368.2 415.1 L368.6 413.9 L368.9 412.4 L369.1 410.7 L369.1 409 L369.1 407.5 L369 406.2 L368.9 405.3 L368.9 405 L368.6 404.8 L367.7 404.2 L366.4 403.3 L364.7 402.2 L362.9 401 L361 399.8 L359.2 398.6 L357.6 397.5 L356.1 396.5 L354.5 395.5 L352.8 394.4 L351.1 393.4 L349.5 392.3 L347.9 391.2 L346.5 390.2 L345.1 389.1 L343.8 388 L342.5 386.9 L341.3 385.8 L340.1 384.7 L339.1 383.6 L338.2 382.5 L337.5 381.4 L337.1 380.4 L336.9 379.4 L337 378.4 L337.3 377.4 L337.8 376.4 L338.3 375.4 L339 374.5 L339.6 373.7 L340.1 372.9 L340.6 372.2 L341.1 371.5 L341.7 370.9 L342.2 370.3 L342.9 369.8 L343.5 369.3 L344.3 368.8 L345.1 368.3 L346 367.9 L347 367.5 L348.1 367.2 L349.3 366.9 L350.4 366.5 L351.6 366.2 L352.8 365.8 L353.9 365.3 L355 364.7 L356.2 364 L357.3 363.3 L358.5 362.5 L359.6 361.7 L360.7 361 L361.7 360.3 L362.7 359.8 L363.7 359.4 L364.7 359 L365.8 358.6 L366.7 358.3 L367.6 358.1 L368.3 357.9 L368.7 357.8 L368.9 357.8 L368.6 357.7 L367.8 357.6 L366.6 357.3 L365.1 357 L363.5 356.6 L361.9 356.2 L360.3 355.7 L358.9 355.3 L357.6 354.8 L356.3 354.3 L355 353.7 L353.7 353.1 L352.4 352.5 L351.2 351.9 L350 351.3 L348.9 350.8 L347.9 350.3 L346.9 349.9" fill="none" stroke="#000" stroke-width="1.1" stroke-linejoin="round" stroke-linecap="round"/>
<path d="M335.8 345.6 L335.3 345.4 L335.1 345.3" fill="none" stroke="#000" stroke-width="1.1" stroke-linejoin="round" stroke-linecap="round"/>
</g>
<line x1="800.6" y1="51" x2="800.6" y2="640.5" stroke="#222" stroke-width="1.3"/>
<text x="0" y="0" transform="translate(182.2 118.3) rotate(32) scale(0.9 1)" font-size="14.5" text-anchor="middle" dominant-baseline="central" fill="#111">0</text>
<text x="0" y="0" transform="translate(142.7 180.1) rotate(8) scale(0.9 1)" font-size="14.5" text-anchor="middle" dominant-baseline="central" fill="#111">0</text>
<text x="0" y="0" transform="translate(176.5 215.9) rotate(-12) scale(0.9 1)" font-size="14.5" text-anchor="middle" dominant-baseline="central" fill="#111">0</text>
<text x="0" y="0" transform="translate(258.5 361.4) rotate(-70) scale(0.9 1)" font-size="14.5" text-anchor="middle" dominant-baseline="central" fill="#111">0</text>
<text x="0" y="0" transform="translate(140.7 408.5) rotate(45) scale(0.9 1)" font-size="14.5" text-anchor="middle" dominant-baseline="central" fill="#111">0</text>
<text x="0" y="0" transform="translate(446.9 144.1) rotate(5) scale(0.9 1)" font-size="14.5" text-anchor="middle" dominant-baseline="central" fill="#111">0</text>
<text x="0" y="0" transform="translate(439.7 107.8) rotate(35) scale(0.9 1)" font-size="14.5" text-anchor="middle" dominant-baseline="central" fill="#111">0</text>
<text x="0" y="0" transform="translate(653.9 123.6) rotate(5) scale(0.9 1)" font-size="14.5" text-anchor="middle" dominant-baseline="central" fill="#111">0</text>
<text x="0" y="0" transform="translate(755.9 119) rotate(-20) scale(0.9 1)" font-size="14.5" text-anchor="middle" dominant-baseline="central" fill="#111">0</text>
<text x="0" y="0" transform="translate(722.7 254.5) rotate(-35) scale(0.9 1)" font-size="14.5" text-anchor="middle" dominant-baseline="central" fill="#111">0</text>
<text x="0" y="0" transform="translate(744.5 441.1) rotate(75) scale(0.9 1)" font-size="14.5" text-anchor="middle" dominant-baseline="central" fill="#111">0</text>
<text x="0" y="0" transform="translate(487.2 310.9) rotate(65) scale(0.9 1)" font-size="14.5" text-anchor="middle" dominant-baseline="central" fill="#111">0</text>
<text x="0" y="0" transform="translate(434.6 499.8) rotate(-35) scale(0.9 1)" font-size="14.5" text-anchor="middle" dominant-baseline="central" fill="#111">0</text>
<text x="0" y="0" transform="translate(341.9 347.3) rotate(15) scale(0.9 1)" font-size="14.5" text-anchor="middle" dominant-baseline="central" fill="#111">0</text>
<text x="0" y="0" transform="translate(325.8 201) rotate(12) scale(0.9 1)" font-size="14.5" text-anchor="middle" dominant-baseline="central" fill="#111">1</text>
<text x="0" y="0" transform="translate(538.6 141.6) rotate(0) scale(0.9 1)" font-size="14.5" text-anchor="middle" dominant-baseline="central" fill="#111">1</text>
<circle cx="615.4" cy="145" r="0.6" fill="#222"/>
<path d="M863.1 139.1 L862.8 139.4 L862.5 140 L862.2 140.7 L861.9 141.6 L861.6 142.5 L861.3 143.5 L861.1 144.6 L860.8 146 L860.6 147.5 L860.4 148.9 L860.2 150.1 L860 151 L859.9 151.3 L859.8 151.5 L859.6 151.7 L859.4 151.8 L859.2 151.8 L859 151.8 L858.8 151.6 L858.5 151.4 L858.3 151 L858 150.6 L857.8 150.3 L857.5 150 L857.2 149.7 L857 149.5 L856.7 149.2 L856.4 149 L856.1 149 L855.7 149.2 L855.3 149.6 L854.8 150.1 L854.3 150.8 L853.8 151.7 L853.4 152.7 L853 153.9 L852.6 155.7 L852.2 157.8 L851.9 160.3 L851.5 162.9 L851.2 165.7 L850.8 168.7 L850.4 171.7 L850.1 174.9 L849.7 178.2 L849.4 181.8 L849 185.7 L848.7 189.9 L848.4 194.8 L848 200.4 L847.7 206.3 L847.3 212.1 L847 217.4 L846.6 221.7 L846.3 224.5 L845.9 226.7 L845.5 228.6 L845.1 230.3 L844.8 232.2 L844.5 234.4 L844.3 237 L844 239.7 L843.8 242.5 L843.7 245.5 L843.5 248.4 L843.4 251.4 L843.3 254.2 L843.2 256.8 L843.1 259.4 L843.1 262.4 L843 265.8 L843 270 L842.9 279.4 L842.8 291 L842.7 304.3 L842.7 318.8 L842.6 334.2 L842.5 350 L842.5 365.8 L842.4 381.9 L842.4 398.8 L842.4 417 L842.3 437.3 L842.2 460 L842 490.1 L841.6 528.1 L841.2 568.1 L840.9 604.1 L840.6 630 L840.5 640 L842.6 640 L847.9 640 L854.8 640 L861.6 640 L866.9 640 L869 640 L869 606.7 L869 523.3 L869 415 L869 306.7 L869 223.3 L869 190 L868.9 190 L868.7 190.1 L868.4 190.2 L868.1 190.2 L867.9 190.1 L867.8 189.9 L867.6 186.8 L867.3 182.5 L867.1 177.5 L866.8 172.1 L866.6 166.9 L866.3 162.4 L866 158.3 L865.7 154.2 L865.5 150.2 L865.2 146.6 L864.9 143.6 L864.6 141.2 L864.5 140.6 L864.3 140 L864 139.5 L863.7 139.2 L863.4 139Z" fill="#000"/>
<line x1="82.5" y1="49.45" x2="82.5" y2="642.15" stroke="#000" stroke-width="2.3"/>
<line x1="81.35" y1="50.6" x2="877.2" y2="50.6" stroke="#000" stroke-width="2.3"/>
<line x1="81.35" y1="641.0" x2="877.2" y2="641.0" stroke="#000" stroke-width="2.3"/>
<line x1="869.0" y1="50.6" x2="869.0" y2="641.0" stroke="#000" stroke-width="2.3"/>
<line x1="869.0" y1="42.6" x2="869.0" y2="50.6" stroke="#000" stroke-width="2.2"/>
<line x1="869.0" y1="641.0" x2="869.0" y2="649.2" stroke="#000" stroke-width="2.2"/>
<text transform="translate(868.6 668.6) scale(0.965 1)" font-size="19.9" text-anchor="middle">0</text>
<line x1="813.5" y1="45.1" x2="813.5" y2="50.6" stroke="#000" stroke-width="2.0"/>
<line x1="813.5" y1="641.0" x2="813.5" y2="646.7" stroke="#000" stroke-width="2.0"/>
<line x1="757.9" y1="42.6" x2="757.9" y2="50.6" stroke="#000" stroke-width="2.2"/>
<line x1="757.9" y1="641.0" x2="757.9" y2="649.2" stroke="#000" stroke-width="2.2"/>
<text transform="translate(757.5 668.6) scale(0.965 1)" font-size="19.9" text-anchor="middle">200</text>
<line x1="702.4" y1="45.1" x2="702.4" y2="50.6" stroke="#000" stroke-width="2.0"/>
<line x1="702.4" y1="641.0" x2="702.4" y2="646.7" stroke="#000" stroke-width="2.0"/>
<line x1="646.8" y1="42.6" x2="646.8" y2="50.6" stroke="#000" stroke-width="2.2"/>
<line x1="646.8" y1="641.0" x2="646.8" y2="649.2" stroke="#000" stroke-width="2.2"/>
<text transform="translate(646.4 668.6) scale(0.965 1)" font-size="19.9" text-anchor="middle">400</text>
<line x1="591.3" y1="45.1" x2="591.3" y2="50.6" stroke="#000" stroke-width="2.0"/>
<line x1="591.3" y1="641.0" x2="591.3" y2="646.7" stroke="#000" stroke-width="2.0"/>
<line x1="535.8" y1="42.6" x2="535.8" y2="50.6" stroke="#000" stroke-width="2.2"/>
<line x1="535.8" y1="641.0" x2="535.8" y2="649.2" stroke="#000" stroke-width="2.2"/>
<text transform="translate(535.4 668.6) scale(0.965 1)" font-size="19.9" text-anchor="middle">600</text>
<line x1="480.2" y1="45.1" x2="480.2" y2="50.6" stroke="#000" stroke-width="2.0"/>
<line x1="480.2" y1="641.0" x2="480.2" y2="646.7" stroke="#000" stroke-width="2.0"/>
<line x1="424.7" y1="42.6" x2="424.7" y2="50.6" stroke="#000" stroke-width="2.2"/>
<line x1="424.7" y1="641.0" x2="424.7" y2="649.2" stroke="#000" stroke-width="2.2"/>
<text transform="translate(424.3 668.6) scale(0.965 1)" font-size="19.9" text-anchor="middle">800</text>
<line x1="369.1" y1="45.1" x2="369.1" y2="50.6" stroke="#000" stroke-width="2.0"/>
<line x1="369.1" y1="641.0" x2="369.1" y2="646.7" stroke="#000" stroke-width="2.0"/>
<line x1="313.6" y1="42.6" x2="313.6" y2="50.6" stroke="#000" stroke-width="2.2"/>
<line x1="313.6" y1="641.0" x2="313.6" y2="649.2" stroke="#000" stroke-width="2.2"/>
<text transform="translate(313.2 668.6) scale(0.965 1)" font-size="19.9" text-anchor="middle">1000</text>
<line x1="258.1" y1="45.1" x2="258.1" y2="50.6" stroke="#000" stroke-width="2.0"/>
<line x1="258.1" y1="641.0" x2="258.1" y2="646.7" stroke="#000" stroke-width="2.0"/>
<line x1="202.5" y1="42.6" x2="202.5" y2="50.6" stroke="#000" stroke-width="2.2"/>
<line x1="202.5" y1="641.0" x2="202.5" y2="649.2" stroke="#000" stroke-width="2.2"/>
<text transform="translate(202.1 668.6) scale(0.965 1)" font-size="19.9" text-anchor="middle">1200</text>
<line x1="147.0" y1="45.1" x2="147.0" y2="50.6" stroke="#000" stroke-width="2.0"/>
<line x1="147.0" y1="641.0" x2="147.0" y2="646.7" stroke="#000" stroke-width="2.0"/>
<line x1="91.4" y1="42.6" x2="91.4" y2="50.6" stroke="#000" stroke-width="2.2"/>
<line x1="91.4" y1="641.0" x2="91.4" y2="649.2" stroke="#000" stroke-width="2.2"/>
<text transform="translate(91.0 668.6) scale(0.965 1)" font-size="19.9" text-anchor="middle">1400</text>
<line x1="74.2" y1="50.5" x2="82.5" y2="50.5" stroke="#000" stroke-width="2.2"/>
<line x1="869.0" y1="50.5" x2="877.2" y2="50.5" stroke="#000" stroke-width="2.2"/>
<text transform="translate(72.7 57.1) scale(0.98 1)" font-size="19.75" text-anchor="end">0</text>
<line x1="76.6" y1="109.6" x2="82.5" y2="109.6" stroke="#000" stroke-width="2.0"/>
<line x1="869.0" y1="109.6" x2="874.8" y2="109.6" stroke="#000" stroke-width="2.0"/>
<line x1="74.2" y1="168.6" x2="82.5" y2="168.6" stroke="#000" stroke-width="2.2"/>
<line x1="869.0" y1="168.6" x2="877.2" y2="168.6" stroke="#000" stroke-width="2.2"/>
<text transform="translate(72.7 175.2) scale(0.98 1)" font-size="19.75" text-anchor="end">100</text>
<line x1="76.6" y1="227.7" x2="82.5" y2="227.7" stroke="#000" stroke-width="2.0"/>
<line x1="869.0" y1="227.7" x2="874.8" y2="227.7" stroke="#000" stroke-width="2.0"/>
<line x1="74.2" y1="286.7" x2="82.5" y2="286.7" stroke="#000" stroke-width="2.2"/>
<line x1="869.0" y1="286.7" x2="877.2" y2="286.7" stroke="#000" stroke-width="2.2"/>
<text transform="translate(72.7 293.3) scale(0.98 1)" font-size="19.75" text-anchor="end">200</text>
<line x1="76.6" y1="345.8" x2="82.5" y2="345.8" stroke="#000" stroke-width="2.0"/>
<line x1="869.0" y1="345.8" x2="874.8" y2="345.8" stroke="#000" stroke-width="2.0"/>
<line x1="74.2" y1="404.8" x2="82.5" y2="404.8" stroke="#000" stroke-width="2.2"/>
<line x1="869.0" y1="404.8" x2="877.2" y2="404.8" stroke="#000" stroke-width="2.2"/>
<text transform="translate(72.7 411.4) scale(0.98 1)" font-size="19.75" text-anchor="end">300</text>
<line x1="76.6" y1="463.9" x2="82.5" y2="463.9" stroke="#000" stroke-width="2.0"/>
<line x1="869.0" y1="463.9" x2="874.8" y2="463.9" stroke="#000" stroke-width="2.0"/>
<line x1="74.2" y1="522.9" x2="82.5" y2="522.9" stroke="#000" stroke-width="2.2"/>
<line x1="869.0" y1="522.9" x2="877.2" y2="522.9" stroke="#000" stroke-width="2.2"/>
<text transform="translate(72.7 529.5) scale(0.98 1)" font-size="19.75" text-anchor="end">400</text>
<line x1="76.6" y1="582.0" x2="82.5" y2="582.0" stroke="#000" stroke-width="2.0"/>
<line x1="869.0" y1="582.0" x2="874.8" y2="582.0" stroke="#000" stroke-width="2.0"/>
<line x1="74.2" y1="641.0" x2="82.5" y2="641.0" stroke="#000" stroke-width="2.2"/>
<line x1="869.0" y1="641.0" x2="877.2" y2="641.0" stroke="#000" stroke-width="2.2"/>
<text transform="translate(72.7 647.6) scale(0.98 1)" font-size="19.75" text-anchor="end">500</text>
<path d="M77.9 29.9 L87.3 29.9 L82.6 37.4Z" fill="#000"/>
<path d="M103.6 29.9 L113.0 29.9 L108.3 37.4Z" fill="#000"/>
<path d="M130.8 29.9 L140.2 29.9 L135.5 37.4Z" fill="#000"/>
<path d="M169.9 29.9 L179.3 29.9 L174.6 37.4Z" fill="#000"/>
<path d="M209.6 29.9 L219.0 29.9 L214.3 37.4Z" fill="#000"/>
<path d="M249.7 29.9 L259.1 29.9 L254.4 37.4Z" fill="#000"/>
<path d="M289.8 29.9 L299.2 29.9 L294.5 37.4Z" fill="#000"/>
<path d="M330.6 29.9 L340.0 29.9 L335.3 37.4Z" fill="#000"/>
<path d="M370.7 29.9 L380.1 29.9 L375.4 37.4Z" fill="#000"/>
<path d="M410.8 29.9 L420.2 29.9 L415.5 37.4Z" fill="#000"/>
<path d="M450.9 29.9 L460.3 29.9 L455.6 37.4Z" fill="#000"/>
<path d="M490.5 29.9 L499.9 29.9 L495.2 37.4Z" fill="#000"/>
<path d="M531.4 29.9 L540.8 29.9 L536.1 37.4Z" fill="#000"/>
<path d="M571.5 29.9 L580.9 29.9 L576.2 37.4Z" fill="#000"/>
<path d="M611.8 29.9 L621.2 29.9 L616.5 37.4Z" fill="#000"/>
<path d="M652.9 29.9 L662.3 29.9 L657.6 37.4Z" fill="#000"/>
<path d="M673.0 29.9 L682.4 29.9 L677.7 37.4Z" fill="#000"/>
<path d="M693.8 29.9 L703.2 29.9 L698.5 37.4Z" fill="#000"/>
<path d="M714.0 29.9 L723.4 29.9 L718.7 37.4Z" fill="#000"/>
<path d="M734.6 29.9 L744.0 29.9 L739.3 37.4Z" fill="#000"/>
<path d="M754.8 29.9 L764.2 29.9 L759.5 37.4Z" fill="#000"/>
<path d="M775.0 29.9 L784.4 29.9 L779.7 37.4Z" fill="#000"/>
<path d="M795.7 29.9 L805.1 29.9 L800.4 37.4Z" fill="#000"/>
<path d="M815.8 29.9 L825.2 29.9 L820.5 37.4Z" fill="#000"/>
<path d="M829.9 29.9 L839.3 29.9 L834.6 37.4Z" fill="#000"/>
<path d="M843.8 29.9 L853.2 29.9 L848.5 37.4Z" fill="#000"/>
<path d="M863.9 29.9 L873.3 29.9 L868.6 37.4Z" fill="#000"/>
<text x="211.3" y="24.0" font-size="25" textLength="527.6">Temperature anomaly along Line-P - Dec. 2010</text>
<text x="341.3" y="702.7" font-size="22" textLength="268.2">Distance along Line-P (km)</text>
<text transform="translate(22.7 431.9) rotate(-90)" font-size="25">Pressure (dbar)</text>
<text x="718.0" y="685.7" font-size="11" textLength="139.4">Last update: 14th Dec. 2010</text>
</svg>
</body></html>
